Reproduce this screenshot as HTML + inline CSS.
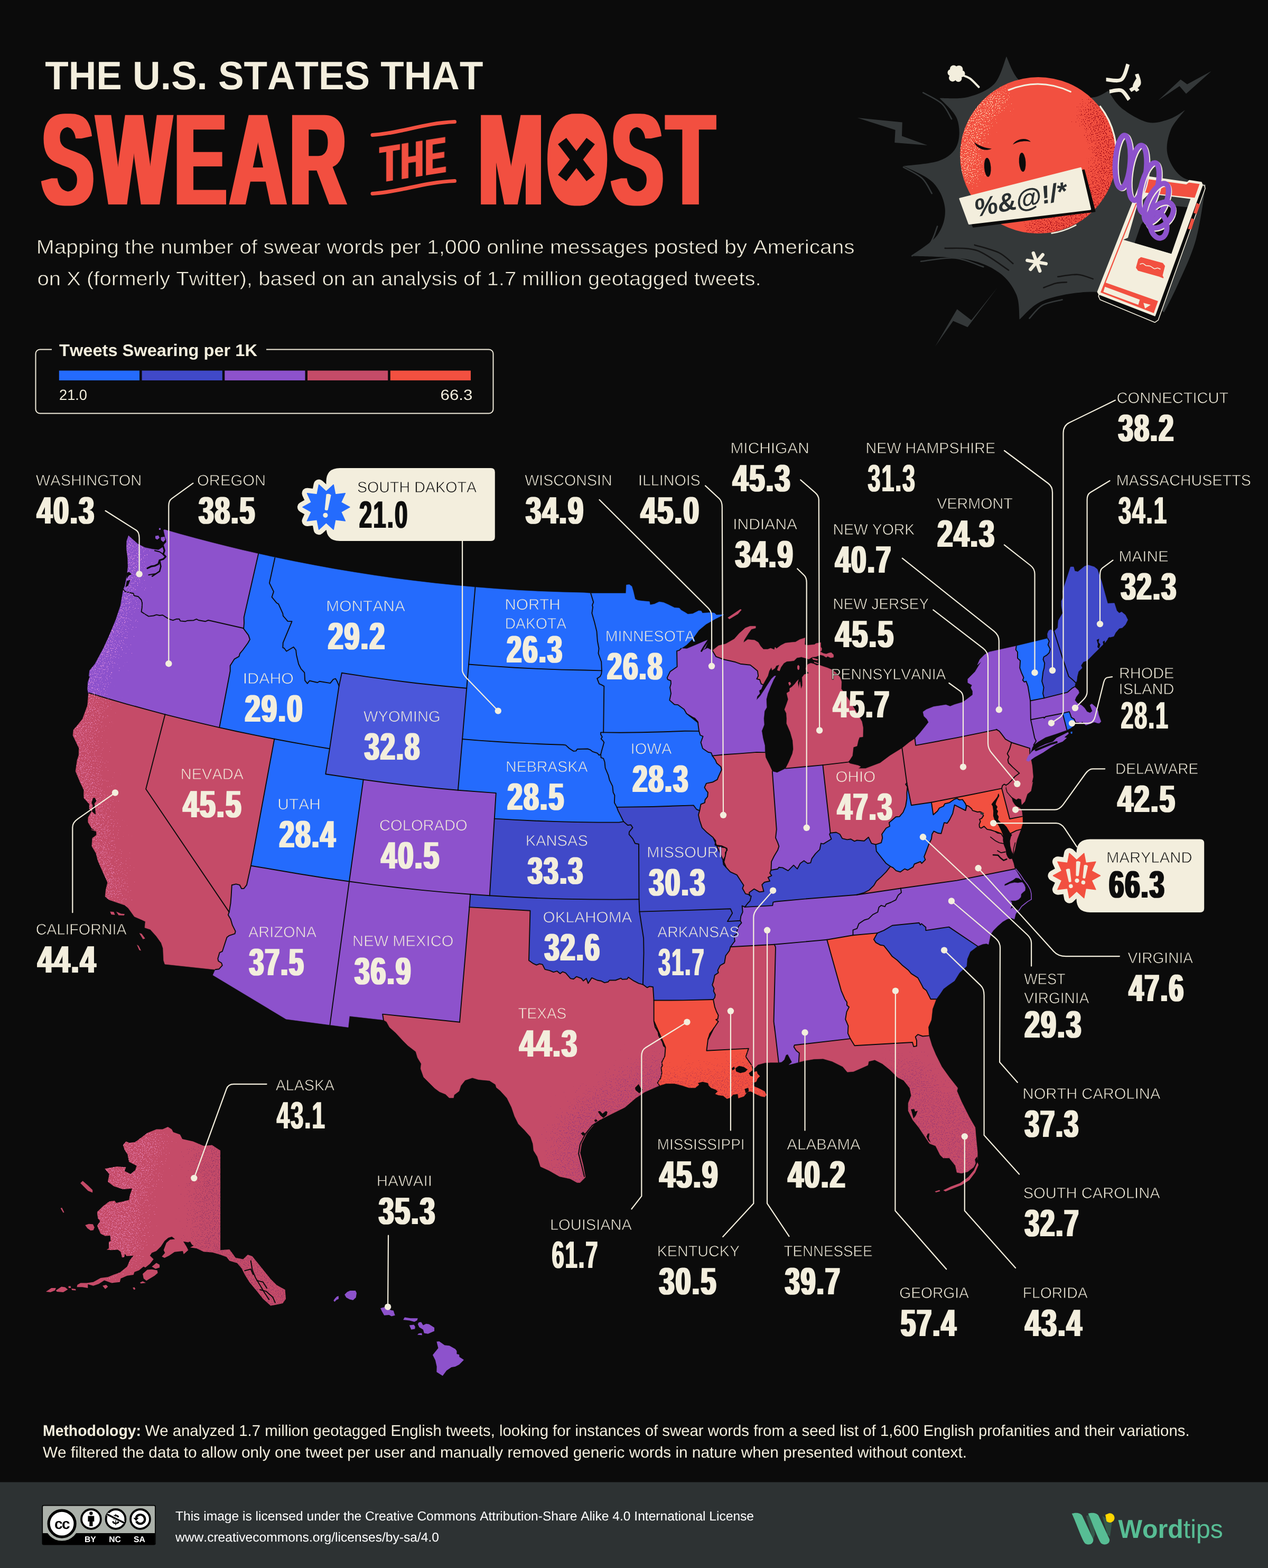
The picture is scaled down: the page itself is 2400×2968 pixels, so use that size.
<!DOCTYPE html>
<html lang="en"><head><meta charset="utf-8"><title>The U.S. States That Swear the Most</title>
<style>
html,body{margin:0;padding:0;background:#0b0b0b;}
body{width:2400px;height:2968px;overflow:hidden;position:relative;font-family:"Liberation Sans",Arial,sans-serif;}
svg{position:absolute;left:0;top:0;display:block;}
text{white-space:pre;font-kerning:none;text-rendering:geometricPrecision;}
</style></head><body>
<svg width="2400" height="2968" viewBox="0 0 2400 2968">
<defs><clipPath id="cBall"><circle cx="1965.1" cy="294.1" r="148"/></clipPath>
<filter id="grainB" filterUnits="userSpaceOnUse" x="1700" y="80" width="640" height="600" color-interpolation-filters="sRGB">
 <feGaussianBlur in="SourceGraphic" stdDeviation="16" result="b"/>
 <feTurbulence type="fractalNoise" baseFrequency="0.5" numOctaves="2" seed="5" result="n"/>
 <feComposite in="n" in2="b" operator="arithmetic" k1="0" k2="1" k3="0.25" k4="0" result="m"/>
 <feColorMatrix in="m" type="matrix" values="0 0 0 0 0  0 0 0 0 0  0 0 0 0 0  0 0 0 14 -11.5" result="t"/>
 <feComposite in="b" in2="t" operator="in" result="c"/>
 <feColorMatrix in="c" type="matrix" values="1 0 0 0 0  0 1 0 0 0  0 0 1 0 0  0 0 0 6 0"/>
</filter><filter id="fatT" x="-5%" y="-5%" width="110%" height="110%"><feMorphology operator="dilate" radius="7.6 0"/></filter><filter id="fatH" x="-5%" y="-5%" width="110%" height="110%"><feMorphology operator="dilate" radius="3.4 0"/></filter><filter id="fatN" x="-5%" y="-5%" width="110%" height="110%"><feMorphology operator="dilate" radius="2.3 0.3"/></filter></defs>
<defs>
<filter id="grainA" filterUnits="userSpaceOnUse" x="0" y="900" width="2400" height="1800" color-interpolation-filters="sRGB">
 <feGaussianBlur in="SourceGraphic" stdDeviation="22" result="b"/>
 <feTurbulence type="fractalNoise" baseFrequency="0.55" numOctaves="2" seed="11" result="n"/>
 <feComposite in="n" in2="b" operator="arithmetic" k1="0" k2="1" k3="0.25" k4="0" result="m"/>
 <feColorMatrix in="m" type="matrix" values="0 0 0 0 0  0 0 0 0 0  0 0 0 0 0  0 0 0 14 -11.9" result="t"/>
 <feComposite in="b" in2="t" operator="in" result="c"/>
 <feColorMatrix in="c" type="matrix" values="1 0 0 0 0  0 1 0 0 0  0 0 1 0 0  0 0 0 6 0"/>
</filter><clipPath id="cWA"><path d="M233.4,1115.9 236.4,1109.0 238.7,1097.5 241.0,1083.7 242.2,1072.2 241.7,1056.0 239.4,1037.6 239.9,1023.8 243.3,1014.1 249.1,1019.2 260.6,1029.5 274.4,1036.5 288.2,1039.4 299.8,1041.1 309.0,1035.3 314.1,1022.6 309.7,1003.5 311.5,1002.6 340.9,1011.0 370.4,1019.0 400.0,1026.8 429.6,1034.2 459.4,1041.4 489.1,1048.2 489.1,1048.2 461.7,1168.6 462.0,1179.5 461.2,1189.2 461.2,1189.2 394.2,1174.0 388.5,1176.3 375.8,1174.0 371.9,1171.9 366.6,1174.2 355.1,1174.7 350.5,1176.3 341.2,1175.4 339.4,1171.7 334.3,1171.7 327.4,1174.2 321.7,1172.4 315.9,1169.4 307.8,1164.3 302.1,1165.0 296.3,1163.6 290.6,1165.5 281.3,1166.6 274.4,1162.5 267.5,1157.9 268.7,1150.5 269.1,1141.3 267.5,1135.5 261.8,1129.3 253.7,1127.5 252.5,1123.3 244.5,1121.7 236.4,1119.4 233.4,1115.9Z"/></clipPath><clipPath id="cOR"><path d="M233.4,1115.9 236.4,1119.4 244.5,1121.7 252.5,1123.3 253.7,1127.5 261.8,1129.3 267.5,1135.5 269.1,1141.3 268.7,1150.5 267.5,1157.9 274.4,1162.5 281.3,1166.6 290.6,1165.5 296.3,1163.6 302.1,1165.0 307.8,1164.3 315.9,1169.4 321.7,1172.4 327.4,1174.2 334.3,1171.7 339.4,1171.7 341.2,1175.4 350.5,1176.3 355.1,1174.7 366.6,1174.2 371.9,1171.9 375.8,1174.0 388.5,1176.3 394.2,1174.0 461.2,1189.2 460.4,1189.2 463.4,1193.1 470.3,1202.4 473.0,1210.4 469.1,1217.3 459.9,1230.0 454.1,1236.9 452.3,1242.7 443.8,1247.3 435.7,1260.0 435.7,1270.3 415.2,1377.1 415.2,1377.1 380.9,1369.2 346.6,1360.9 312.5,1352.3 312.5,1352.3 276.3,1342.7 240.2,1332.8 204.3,1322.4 168.4,1311.7 167.5,1312.9 165.7,1305.3 166.4,1291.5 170.3,1280.0 168.4,1280.0 169.6,1269.2 180.0,1256.5 196.1,1226.5 207.6,1201.2 219.1,1173.5 228.3,1145.9 230.6,1132.1 233.4,1115.9Z"/></clipPath><clipPath id="cCA"><path d="M168.4,1311.7 204.3,1322.4 240.2,1332.8 276.3,1342.7 312.5,1352.3 312.5,1352.3 276.1,1493.5 433.7,1726.4 433.7,1726.4 431.8,1731.7 436.5,1739.7 439.9,1751.2 445.7,1762.8 444.5,1767.4 434.1,1770.8 429.5,1774.3 427.2,1781.2 420.8,1800.8 415.7,1803.1 412.3,1814.6 413.4,1819.2 419.2,1822.7 420.8,1827.3 414.6,1834.2 407.6,1835.3 407.6,1835.3 312.0,1825.0 312.0,1825.0 309.7,1818.1 308.6,1795.0 305.1,1784.7 295.9,1772.0 284.4,1759.3 274.0,1755.9 275.2,1744.3 268.2,1740.9 254.4,1735.1 242.9,1719.0 236.0,1713.2 222.2,1708.6 206.0,1702.9 199.1,1697.1 200.3,1684.4 203.7,1670.6 194.5,1649.9 185.3,1629.1 181.8,1615.3 173.8,1601.5 174.9,1586.5 182.5,1580.7 182.5,1573.8 172.6,1570.4 181.8,1572.6 173.7,1568.0 166.8,1556.5 166.8,1547.3 173.7,1535.8 169.1,1531.2 169.1,1521.9 158.8,1510.4 158.8,1495.4 151.8,1480.5 143.1,1459.7 146.1,1439.0 149.1,1429.8 149.5,1415.9 138.0,1391.8 139.2,1381.4 147.2,1372.2 156.5,1360.6 157.6,1357.2 165.7,1335.3 167.5,1312.9Z"/></clipPath><clipPath id="cTX"><path d="M888.5,1717.1 1003.5,1723.7 1001.0,1818.0 1008.4,1823.3 1015.3,1826.7 1021.1,1824.4 1026.8,1825.6 1031.4,1834.8 1040.6,1837.1 1047.6,1840.1 1054.5,1838.2 1060.2,1842.9 1064.8,1839.4 1070.6,1841.7 1079.8,1852.1 1085.6,1853.2 1091.3,1848.6 1100.6,1852.1 1104.0,1856.7 1109.8,1852.1 1113.2,1861.3 1120.1,1850.9 1130.5,1855.5 1137.4,1856.7 1144.3,1860.1 1151.2,1858.5 1153.5,1855.5 1165.1,1855.5 1175.4,1851.6 1177.7,1853.9 1187.0,1853.2 1189.3,1849.8 1199.6,1856.7 1208.8,1861.3 1216.9,1863.6 1216.9,1863.6 1225.0,1869.4 1229.6,1867.1 1236.0,1868.2 1237.6,1893.5 1237.6,1893.5 1237.6,1932.7 1240.0,1944.2 1245.7,1953.5 1246.9,1960.4 1253.8,1971.9 1256.1,1980.0 1259.5,1982.3 1237.6,1932.3 1239.9,1943.8 1245.7,1951.8 1248.0,1962.2 1254.9,1971.4 1257.2,1980.6 1259.5,1982.9 1258.3,1999.1 1252.6,2010.6 1253.7,2017.5 1251.4,2021.0 1252.6,2031.3 1250.3,2040.6 1244.5,2049.8 1248.0,2054.8 1248.0,2054.8 1220.3,2067.1 1203.1,2078.6 1182.9,2095.9 1157.0,2108.8 1139.7,2117.5 1125.3,2127.5 1110.9,2144.8 1100.8,2165.0 1097.9,2182.3 1103.7,2205.3 1108.0,2228.3 1108.0,2228.3 1105.1,2231.2 1097.9,2238.4 1092.2,2238.4 1079.2,2231.2 1059.1,2226.9 1038.9,2215.4 1023.1,2208.2 1017.3,2189.5 1010.1,2177.9 1008.7,2165.0 1004.3,2152.0 992.8,2139.1 981.3,2127.5 974.1,2113.1 968.3,2095.9 959.7,2078.6 946.7,2064.2 939.5,2058.4 938.1,2052.6 949.4,2064.3 940.2,2058.5 937.9,2052.8 926.4,2045.4 905.6,2043.5 894.1,2040.1 880.3,2044.7 872.2,2055.1 868.8,2065.4 859.5,2072.4 858.4,2078.1 850.3,2078.1 843.4,2071.2 831.9,2066.6 822.7,2059.7 813.5,2050.5 801.9,2038.9 796.2,2022.8 797.3,2013.6 790.4,2002.1 787.0,1990.6 772.0,1979.0 762.8,1969.8 748.9,1954.8 737.4,1944.5 731.7,1934.1 725.9,1930.6 725.9,1930.6 724.1,1919.6 870.0,1934.8 870.0,1934.8 888.5,1717.1Z"/></clipPath><clipPath id="cLA"><path d="M1237.6,1893.5 1292.9,1893.4 1350.0,1892.0 1350.0,1892.0 1352.8,1905.8 1356.2,1915.0 1359.7,1921.9 1358.5,1928.8 1355.1,1930.0 1359.7,1933.5 1350.5,1947.3 1343.5,1956.5 1340.1,1968.0 1351.7,1944.9 1343.6,1957.6 1340.1,1966.8 1337.4,1988.7 1416.9,1984.6 1411.6,2000.2 1421.9,2015.2 1421.9,2015.2 1424.2,2025.6 1417.3,2031.3 1419.6,2035.9 1425.4,2038.2 1427.7,2029.0 1432.3,2027.9 1433.5,2032.5 1438.1,2037.1 1433.5,2041.7 1431.2,2047.5 1424.2,2049.8 1427.7,2056.7 1435.8,2060.1 1447.3,2065.9 1450.7,2072.8 1447.3,2076.3 1440.4,2075.1 1430.0,2070.5 1421.9,2065.9 1415.0,2065.9 1408.1,2075.1 1397.7,2078.6 1396.6,2070.5 1387.4,2071.7 1382.8,2077.4 1375.9,2079.7 1368.9,2074.0 1359.7,2072.8 1354.0,2070.5 1358.6,2065.9 1355.1,2062.4 1345.9,2059.0 1341.3,2054.4 1339.0,2049.8 1329.8,2047.5 1320.6,2049.8 1322.9,2053.2 1315.9,2059.0 1304.4,2059.0 1290.6,2054.4 1276.8,2050.9 1260.6,2050.9 1248.0,2054.8 1248.0,2054.8 1244.5,2049.8 1250.3,2040.6 1252.6,2031.3 1251.4,2021.0 1253.7,2017.5 1252.6,2010.6 1258.3,1999.1 1259.5,1982.9 1257.2,1980.6 1254.9,1971.4 1248.0,1962.2 1245.7,1951.8 1239.9,1943.8 1237.6,1932.3 1259.5,1982.3 1256.1,1980.0 1253.8,1971.9 1246.9,1960.4 1245.7,1953.5 1240.0,1944.2 1237.6,1932.7 1237.6,1893.5Z"/></clipPath><clipPath id="cFL"><path d="M1511.8,2010.6 1512.9,1993.3 1507.2,1988.7 1502.6,1981.8 1503.7,1978.3 1609.4,1966.1 1609.4,1966.1 1617.5,1979.3 1727.0,1973.0 1729.3,1981.1 1735.0,1980.0 1735.0,1969.6 1732.7,1962.7 1737.3,1958.1 1746.5,1961.5 1758.1,1960.4 1758.1,1960.4 1763.7,1978.8 1770.9,1996.1 1782.4,2019.1 1796.8,2039.3 1812.7,2059.4 1811.2,2065.2 1819.9,2085.4 1834.3,2114.2 1845.8,2134.3 1847.2,2151.6 1850.1,2180.4 1850.1,2194.8 1842.9,2209.2 1831.4,2217.9 1819.9,2220.7 1811.2,2219.3 1808.3,2206.3 1796.8,2191.9 1785.3,2191.9 1779.5,2186.2 1770.9,2168.9 1759.4,2164.6 1750.7,2151.6 1739.2,2134.3 1727.7,2119.9 1719.1,2102.6 1719.1,2088.2 1724.8,2073.8 1721.9,2059.4 1710.4,2045.0 1698.9,2039.3 1684.5,2024.9 1670.1,2013.4 1655.7,2006.2 1644.2,2009.0 1642.7,2016.2 1629.8,2022.0 1615.4,2028.3 1603.8,2029.2 1595.2,2019.1 1575.0,2009.0 1557.8,2004.1 1540.5,2004.7 1523.2,2007.6 1511.8,2010.6Z"/></clipPath><clipPath id="cMSAL"><path d="M1382.7,1792.2 1465.7,1787.8 1465.7,1787.8 1468.0,1792.9 1464.5,1933.5 1466.8,1951.9 1465.7,1941.5 1473.8,2011.1 1473.8,2011.1 1458.8,2011.1 1447.3,2011.8 1434.6,2015.2 1427.7,2022.1 1421.9,2015.2 1421.9,2015.2 1411.6,2000.2 1416.9,1984.6 1337.4,1988.7 1340.1,1966.8 1343.6,1957.6 1351.7,1944.9 1340.1,1968.0 1343.5,1956.5 1350.5,1947.3 1359.7,1933.5 1355.1,1930.0 1358.5,1928.8 1359.7,1921.9 1356.2,1915.0 1352.8,1905.8 1350.0,1892.0 1350.0,1892.0 1352.8,1888.5 1353.9,1882.8 1350.5,1875.9 1351.6,1871.2 1348.2,1864.3 1350.5,1857.4 1352.8,1845.9 1359.7,1841.3 1358.5,1836.7 1363.1,1827.5 1371.2,1822.9 1373.5,1809.0 1380.4,1799.8 1382.7,1792.2Z"/><path d="M1465.7,1787.8 1565.2,1778.8 1565.2,1778.8 1592.2,1875.1 1599.1,1891.2 1603.0,1897.0 1603.0,1902.8 1607.1,1906.2 1602.5,1915.4 1600.2,1929.3 1605.5,1941.9 1604.8,1955.8 1609.4,1966.1 1609.4,1966.1 1503.7,1978.3 1502.6,1981.8 1507.2,1988.7 1512.9,1993.3 1511.8,2010.6 1511.8,2010.6 1502.6,2012.9 1493.4,2015.2 1499.1,2010.6 1491.1,1995.6 1487.6,1996.8 1484.1,2006.0 1479.5,2010.1 1473.8,2011.1 1473.8,2011.1 1465.7,1941.5 1466.8,1951.9 1464.5,1933.5 1468.0,1792.9 1465.7,1787.8Z"/></clipPath><clipPath id="cAK"><path d="M417.1,2177.7 401.3,2167.6 385.5,2169.0 365.3,2160.4 345.1,2156.1 340.8,2147.4 327.9,2143.1 325.0,2137.4 317.8,2133.0 307.7,2137.4 296.2,2137.4 278.9,2144.6 267.4,2153.2 255.9,2161.8 244.3,2163.3 238.6,2160.4 232.8,2167.6 235.7,2176.2 241.5,2184.9 244.3,2199.3 258.7,2206.5 255.9,2215.1 247.2,2222.3 235.7,2216.6 238.6,2209.4 221.3,2207.9 198.2,2212.2 206.9,2222.3 204.0,2236.7 215.5,2245.4 232.8,2251.1 250.1,2249.7 245.8,2262.6 244.3,2271.3 232.8,2274.2 219.9,2277.1 217.0,2272.7 206.9,2274.2 195.4,2282.8 183.8,2294.3 185.3,2305.9 189.6,2311.6 183.8,2320.3 190.5,2335.2 199.1,2339.6 208.6,2338.7 209.5,2349.1 206.0,2350.8 206.0,2362.9 201.7,2365.5 211.2,2366.3 223.3,2365.5 228.5,2369.8 231.1,2380.2 235.4,2379.3 236.3,2373.2 239.7,2377.6 252.7,2376.7 245.8,2385.3 240.6,2397.4 226.8,2408.7 214.7,2413.0 204.3,2417.3 190.5,2419.0 176.6,2426.8 164.6,2428.5 152.5,2428.5 146.4,2432.0 145.5,2436.3 155.9,2436.3 166.3,2438.1 166.3,2431.1 176.6,2433.7 187.0,2430.3 197.4,2423.4 211.2,2428.5 226.8,2426.8 228.5,2419.9 240.6,2414.7 252.7,2413.0 254.4,2407.8 263.1,2404.4 271.7,2397.4 275.1,2399.2 283.8,2392.3 290.7,2383.6 283.8,2376.7 287.2,2371.5 295.9,2368.1 304.5,2359.4 311.4,2349.1 318.4,2343.0 325.3,2340.7 331.3,2345.6 321.8,2346.5 314.9,2352.5 309.7,2366.3 312.3,2371.5 306.3,2378.4 311.4,2381.0 320.1,2376.7 330.4,2369.8 346.0,2368.1 347.7,2374.1 356.4,2366.3 352.9,2359.4 348.6,2352.5 346.9,2349.9 356.4,2351.6 359.8,2349.9 363.3,2356.0 366.7,2357.7 359.8,2361.2 371.9,2362.9 385.5,2369.2 402.7,2370.7 417.1,2375.0 428.7,2379.3 434.4,2386.5 448.8,2390.8 457.5,2400.9 463.2,2412.4 471.9,2426.8 486.3,2444.1 497.8,2458.5 512.2,2471.5 520.8,2470.0 535.2,2467.1 541.0,2458.5 539.6,2441.2 523.7,2432.6 512.2,2421.1 500.7,2406.7 489.1,2392.3 477.6,2377.9 469.0,2375.0 460.3,2383.6 445.9,2380.7 434.4,2364.9 417.1,2366.3Z"/></clipPath></defs>
<rect width="2400" height="2968" fill="#0b0b0b"/>
<g id="map">
<g id="states">
<path d="M233.4,1115.9 236.4,1109.0 238.7,1097.5 241.0,1083.7 242.2,1072.2 241.7,1056.0 239.4,1037.6 239.9,1023.8 243.3,1014.1 249.1,1019.2 260.6,1029.5 274.4,1036.5 288.2,1039.4 299.8,1041.1 309.0,1035.3 314.1,1022.6 309.7,1003.5 311.5,1002.6 340.9,1011.0 370.4,1019.0 400.0,1026.8 429.6,1034.2 459.4,1041.4 489.1,1048.2 489.1,1048.2 461.7,1168.6 462.0,1179.5 461.2,1189.2 461.2,1189.2 394.2,1174.0 388.5,1176.3 375.8,1174.0 371.9,1171.9 366.6,1174.2 355.1,1174.7 350.5,1176.3 341.2,1175.4 339.4,1171.7 334.3,1171.7 327.4,1174.2 321.7,1172.4 315.9,1169.4 307.8,1164.3 302.1,1165.0 296.3,1163.6 290.6,1165.5 281.3,1166.6 274.4,1162.5 267.5,1157.9 268.7,1150.5 269.1,1141.3 267.5,1135.5 261.8,1129.3 253.7,1127.5 252.5,1123.3 244.5,1121.7 236.4,1119.4 233.4,1115.9Z" fill="#8d52cc" stroke="#8d52cc" stroke-width="0.6" stroke-linejoin="round"/>
<path d="M233.4,1115.9 236.4,1119.4 244.5,1121.7 252.5,1123.3 253.7,1127.5 261.8,1129.3 267.5,1135.5 269.1,1141.3 268.7,1150.5 267.5,1157.9 274.4,1162.5 281.3,1166.6 290.6,1165.5 296.3,1163.6 302.1,1165.0 307.8,1164.3 315.9,1169.4 321.7,1172.4 327.4,1174.2 334.3,1171.7 339.4,1171.7 341.2,1175.4 350.5,1176.3 355.1,1174.7 366.6,1174.2 371.9,1171.9 375.8,1174.0 388.5,1176.3 394.2,1174.0 461.2,1189.2 460.4,1189.2 463.4,1193.1 470.3,1202.4 473.0,1210.4 469.1,1217.3 459.9,1230.0 454.1,1236.9 452.3,1242.7 443.8,1247.3 435.7,1260.0 435.7,1270.3 415.2,1377.1 415.2,1377.1 380.9,1369.2 346.6,1360.9 312.5,1352.3 312.5,1352.3 276.3,1342.7 240.2,1332.8 204.3,1322.4 168.4,1311.7 167.5,1312.9 165.7,1305.3 166.4,1291.5 170.3,1280.0 168.4,1280.0 169.6,1269.2 180.0,1256.5 196.1,1226.5 207.6,1201.2 219.1,1173.5 228.3,1145.9 230.6,1132.1 233.4,1115.9Z" fill="#8d52cc" stroke="#8d52cc" stroke-width="0.6" stroke-linejoin="round"/>
<path d="M168.4,1311.7 204.3,1322.4 240.2,1332.8 276.3,1342.7 312.5,1352.3 312.5,1352.3 276.1,1493.5 433.7,1726.4 433.7,1726.4 431.8,1731.7 436.5,1739.7 439.9,1751.2 445.7,1762.8 444.5,1767.4 434.1,1770.8 429.5,1774.3 427.2,1781.2 420.8,1800.8 415.7,1803.1 412.3,1814.6 413.4,1819.2 419.2,1822.7 420.8,1827.3 414.6,1834.2 407.6,1835.3 407.6,1835.3 312.0,1825.0 312.0,1825.0 309.7,1818.1 308.6,1795.0 305.1,1784.7 295.9,1772.0 284.4,1759.3 274.0,1755.9 275.2,1744.3 268.2,1740.9 254.4,1735.1 242.9,1719.0 236.0,1713.2 222.2,1708.6 206.0,1702.9 199.1,1697.1 200.3,1684.4 203.7,1670.6 194.5,1649.9 185.3,1629.1 181.8,1615.3 173.8,1601.5 174.9,1586.5 182.5,1580.7 182.5,1573.8 172.6,1570.4 181.8,1572.6 173.7,1568.0 166.8,1556.5 166.8,1547.3 173.7,1535.8 169.1,1531.2 169.1,1521.9 158.8,1510.4 158.8,1495.4 151.8,1480.5 143.1,1459.7 146.1,1439.0 149.1,1429.8 149.5,1415.9 138.0,1391.8 139.2,1381.4 147.2,1372.2 156.5,1360.6 157.6,1357.2 165.7,1335.3 167.5,1312.9Z" fill="#c54b68" stroke="#c54b68" stroke-width="0.6" stroke-linejoin="round"/>
<path d="M312.5,1352.3 346.6,1360.9 380.9,1369.2 415.2,1377.1 415.2,1377.1 449.8,1384.7 484.5,1391.9 519.3,1398.8 519.3,1398.8 474.9,1638.8 474.9,1638.8 466.9,1675.2 461.8,1681.7 457.2,1682.1 453.7,1675.2 446.8,1673.4 438.8,1675.2 437.6,1695.9 436.5,1709.8 433.7,1726.4 433.7,1726.4 276.1,1493.5 312.5,1352.3Z" fill="#c54b68" stroke="#c54b68" stroke-width="0.6" stroke-linejoin="round"/>
<path d="M489.1,1048.2 519.8,1055.0 520.3,1056.0 509.9,1103.7 518.0,1119.9 514.5,1130.2 523.7,1141.3 527.2,1143.4 535.3,1161.3 535.9,1165.9 541.0,1171.7 544.5,1175.9 552.5,1176.3 535.7,1216.6 535.3,1225.9 538.0,1227.0 542.2,1232.8 555.5,1224.7 560.1,1230.5 561.1,1239.7 565.2,1257.0 569.8,1266.2 576.3,1273.1 577.2,1288.1 581.8,1293.8 585.9,1288.5 600.9,1292.0 604.8,1289.7 625.1,1293.1 630.9,1285.8 635.0,1284.6 637.8,1289.2 641.7,1298.4 641.7,1298.4 624.0,1417.2 624.0,1417.2 589.0,1411.4 554.1,1405.3 519.3,1398.8 519.3,1398.8 484.5,1391.9 449.8,1384.7 415.2,1377.1 415.2,1377.1 435.7,1270.3 435.7,1260.0 443.8,1247.3 452.3,1242.7 454.1,1236.9 459.9,1230.0 469.1,1217.3 473.0,1210.4 470.3,1202.4 463.4,1193.1 460.4,1189.2 461.2,1189.2 462.0,1179.5 461.7,1168.6 489.1,1048.2Z" fill="#246bfd" stroke="#246bfd" stroke-width="0.6" stroke-linejoin="round"/>
<path d="M519.8,1055.0 557.4,1062.8 595.1,1070.1 632.9,1077.0 670.8,1083.3 708.8,1089.2 746.8,1094.7 784.9,1099.6 823.1,1104.1 861.3,1108.0 899.5,1111.5 899.5,1111.5 887.1,1257.5 887.1,1257.5 883.3,1302.7 883.3,1302.7 835.8,1298.3 788.5,1293.2 741.2,1287.4 694.0,1280.9 646.9,1273.8 646.9,1273.8 641.7,1298.4 641.7,1298.4 637.8,1289.2 635.0,1284.6 630.9,1285.8 625.1,1293.1 604.8,1289.7 600.9,1292.0 585.9,1288.5 581.8,1293.8 577.2,1288.1 576.3,1273.1 569.8,1266.2 565.2,1257.0 561.1,1239.7 560.1,1230.5 555.5,1224.7 542.2,1232.8 538.0,1227.0 535.3,1225.9 535.7,1216.6 552.5,1176.3 544.5,1175.9 541.0,1171.7 535.9,1165.9 535.3,1161.3 527.2,1143.4 523.7,1141.3 514.5,1130.2 518.0,1119.9 509.9,1103.7 520.3,1056.0Z" fill="#246bfd" stroke="#246bfd" stroke-width="0.6" stroke-linejoin="round"/>
<path d="M646.9,1273.8 694.0,1280.9 741.2,1287.4 788.5,1293.2 835.8,1298.3 883.3,1302.7 883.3,1302.7 875.1,1399.0 875.1,1399.0 866.9,1495.8 866.9,1495.8 822.0,1491.7 777.2,1487.0 732.4,1481.7 687.7,1475.8 687.7,1475.8 616.3,1465.2 624.0,1417.2 624.0,1417.2 641.7,1298.4 641.7,1298.4 646.9,1273.8Z" fill="#4b57da" stroke="#4b57da" stroke-width="0.6" stroke-linejoin="round"/>
<path d="M519.3,1398.8 554.1,1405.3 589.0,1411.4 624.0,1417.2 624.0,1417.2 616.3,1465.2 687.7,1475.8 687.7,1475.8 661.0,1668.5 661.0,1668.5 613.9,1661.7 566.8,1654.3 519.9,1646.2 474.9,1638.8 474.9,1638.8 519.3,1398.8Z" fill="#246bfd" stroke="#246bfd" stroke-width="0.6" stroke-linejoin="round"/>
<path d="M687.7,1475.8 732.4,1481.7 777.2,1487.0 822.0,1491.7 866.9,1495.8 866.9,1495.8 938.8,1501.1 935.8,1549.6 935.8,1549.6 926.8,1695.3 926.8,1695.3 890.3,1692.8 890.3,1692.8 844.4,1689.1 798.4,1684.9 752.6,1680.0 706.8,1674.6 661.0,1668.5 661.0,1668.5 687.7,1475.8Z" fill="#8d52cc" stroke="#8d52cc" stroke-width="0.6" stroke-linejoin="round"/>
<path d="M474.9,1638.8 519.9,1646.2 566.8,1654.3 613.9,1661.7 661.0,1668.5 661.0,1668.5 624.5,1939.9 624.5,1939.9 541.4,1929.0 403.0,1845.7 407.6,1835.3 407.6,1835.3 414.6,1834.2 420.8,1827.3 419.2,1822.7 413.4,1819.2 412.3,1814.6 415.7,1803.1 420.8,1800.8 427.2,1781.2 429.5,1774.3 434.1,1770.8 444.5,1767.4 445.7,1762.8 439.9,1751.2 436.5,1739.7 431.8,1731.7 433.7,1726.4 433.7,1726.4 436.5,1709.8 437.6,1695.9 438.8,1675.2 446.8,1673.4 453.7,1675.2 457.2,1682.1 461.8,1681.7 466.9,1675.2 474.9,1638.8Z" fill="#8d52cc" stroke="#8d52cc" stroke-width="0.6" stroke-linejoin="round"/>
<path d="M661.0,1668.5 706.8,1674.6 752.6,1680.0 798.4,1684.9 844.4,1689.1 890.3,1692.8 890.3,1692.8 888.5,1717.1 888.5,1717.1 870.0,1934.8 870.0,1934.8 724.1,1919.6 725.9,1930.6 725.9,1930.6 661.4,1923.3 659.1,1944.5 624.5,1939.9 624.5,1939.9 661.0,1668.5Z" fill="#8d52cc" stroke="#8d52cc" stroke-width="0.6" stroke-linejoin="round"/>
<path d="M899.5,1111.5 940.7,1114.7 981.9,1117.4 1023.2,1119.5 1064.4,1121.0 1105.7,1122.0 1118.2,1123.1 1118.2,1123.1 1123.3,1139.9 1121.0,1145.7 1122.1,1149.1 1120.3,1160.6 1125.6,1179.1 1129.5,1195.2 1130.9,1213.6 1133.6,1227.5 1132.5,1236.7 1138.2,1252.8 1138.9,1269.4 1138.9,1269.4 1106.6,1268.5 1062.7,1267.6 1018.7,1265.9 974.8,1263.7 931.0,1260.9 887.1,1257.5 887.1,1257.5 899.5,1111.5Z" fill="#246bfd" stroke="#246bfd" stroke-width="0.6" stroke-linejoin="round"/>
<path d="M887.1,1257.5 931.0,1260.9 974.8,1263.7 1018.7,1265.9 1062.7,1267.6 1106.6,1268.5 1138.9,1269.4 1138.9,1269.4 1138.2,1275.9 1135.9,1280.5 1130.2,1284.4 1134.1,1294.3 1138.2,1296.1 1143.3,1298.9 1142.2,1386.4 1142.2,1386.4 1137.1,1386.4 1137.1,1390.3 1139.9,1394.9 1137.6,1398.4 1141.0,1401.8 1143.3,1405.3 1141.0,1413.4 1138.7,1421.4 1137.1,1427.9 1137.1,1427.9 1134.1,1429.5 1130.6,1425.6 1121.4,1422.6 1116.8,1419.1 1112.2,1417.5 1092.6,1418.0 1090.3,1421.4 1085.7,1421.9 1077.6,1416.8 1070.7,1410.4 1065.8,1409.7 1034.0,1408.7 1002.2,1407.4 970.4,1405.8 938.6,1403.8 906.8,1401.6 875.1,1399.0 875.1,1399.0 883.3,1302.7 883.3,1302.7 887.1,1257.5Z" fill="#246bfd" stroke="#246bfd" stroke-width="0.6" stroke-linejoin="round"/>
<path d="M875.1,1399.0 906.8,1401.6 938.6,1403.8 970.4,1405.8 1002.2,1407.4 1034.0,1408.7 1065.8,1409.7 1070.7,1410.4 1077.6,1416.8 1085.7,1421.9 1090.3,1421.4 1092.6,1418.0 1112.2,1417.5 1116.8,1419.1 1121.4,1422.6 1130.6,1425.6 1134.1,1429.5 1137.1,1427.9 1137.1,1427.9 1137.6,1434.1 1142.2,1435.7 1144.5,1442.2 1145.6,1453.7 1151.4,1467.5 1153.7,1476.7 1159.4,1488.2 1160.6,1499.8 1163.4,1505.5 1162.9,1519.4 1167.5,1527.9 1167.5,1527.9 1169.8,1534.3 1175.6,1545.9 1180.2,1555.1 1180.2,1555.1 1171.6,1556.6 1132.2,1556.6 1092.9,1556.1 1053.6,1555.1 1014.3,1553.7 975.0,1551.9 935.8,1549.6 935.8,1549.6 938.8,1501.1 866.9,1495.8 866.9,1495.8 875.1,1399.0Z" fill="#246bfd" stroke="#246bfd" stroke-width="0.6" stroke-linejoin="round"/>
<path d="M935.8,1549.6 975.0,1551.9 1014.3,1553.7 1053.6,1555.1 1092.9,1556.1 1132.2,1556.6 1171.6,1556.6 1180.2,1555.1 1180.2,1555.1 1188.2,1562.0 1194.0,1561.3 1197.5,1566.6 1191.0,1574.7 1190.6,1579.3 1197.5,1587.3 1202.1,1596.5 1209.0,1597.7 1209.5,1702.3 1209.5,1702.3 1162.4,1702.6 1115.3,1702.4 1068.1,1701.6 1021.0,1700.1 973.9,1698.0 926.8,1695.3 926.8,1695.3 935.8,1549.6Z" fill="#4049c8" stroke="#4049c8" stroke-width="0.6" stroke-linejoin="round"/>
<path d="M890.3,1692.8 926.8,1695.3 926.8,1695.3 973.9,1698.0 1021.0,1700.1 1068.1,1701.6 1115.3,1702.4 1162.4,1702.6 1209.5,1702.3 1209.5,1702.3 1210.4,1725.6 1210.4,1725.6 1218.1,1776.0 1218.5,1803.7 1216.9,1863.6 1216.9,1863.6 1208.8,1861.3 1199.6,1856.7 1189.3,1849.8 1187.0,1853.2 1177.7,1853.9 1175.4,1851.6 1165.1,1855.5 1153.5,1855.5 1151.2,1858.5 1144.3,1860.1 1137.4,1856.7 1130.5,1855.5 1120.1,1850.9 1113.2,1861.3 1109.8,1852.1 1104.0,1856.7 1100.6,1852.1 1091.3,1848.6 1085.6,1853.2 1079.8,1852.1 1070.6,1841.7 1064.8,1839.4 1060.2,1842.9 1054.5,1838.2 1047.6,1840.1 1040.6,1837.1 1031.4,1834.8 1026.8,1825.6 1021.1,1824.4 1015.3,1826.7 1008.4,1823.3 1001.0,1818.0 1003.5,1723.7 888.5,1717.1 888.5,1717.1 890.3,1692.8Z" fill="#4049c8" stroke="#4049c8" stroke-width="0.6" stroke-linejoin="round"/>
<path d="M888.5,1717.1 1003.5,1723.7 1001.0,1818.0 1008.4,1823.3 1015.3,1826.7 1021.1,1824.4 1026.8,1825.6 1031.4,1834.8 1040.6,1837.1 1047.6,1840.1 1054.5,1838.2 1060.2,1842.9 1064.8,1839.4 1070.6,1841.7 1079.8,1852.1 1085.6,1853.2 1091.3,1848.6 1100.6,1852.1 1104.0,1856.7 1109.8,1852.1 1113.2,1861.3 1120.1,1850.9 1130.5,1855.5 1137.4,1856.7 1144.3,1860.1 1151.2,1858.5 1153.5,1855.5 1165.1,1855.5 1175.4,1851.6 1177.7,1853.9 1187.0,1853.2 1189.3,1849.8 1199.6,1856.7 1208.8,1861.3 1216.9,1863.6 1216.9,1863.6 1225.0,1869.4 1229.6,1867.1 1236.0,1868.2 1237.6,1893.5 1237.6,1893.5 1237.6,1932.7 1240.0,1944.2 1245.7,1953.5 1246.9,1960.4 1253.8,1971.9 1256.1,1980.0 1259.5,1982.3 1237.6,1932.3 1239.9,1943.8 1245.7,1951.8 1248.0,1962.2 1254.9,1971.4 1257.2,1980.6 1259.5,1982.9 1258.3,1999.1 1252.6,2010.6 1253.7,2017.5 1251.4,2021.0 1252.6,2031.3 1250.3,2040.6 1244.5,2049.8 1248.0,2054.8 1248.0,2054.8 1220.3,2067.1 1203.1,2078.6 1182.9,2095.9 1157.0,2108.8 1139.7,2117.5 1125.3,2127.5 1110.9,2144.8 1100.8,2165.0 1097.9,2182.3 1103.7,2205.3 1108.0,2228.3 1108.0,2228.3 1105.1,2231.2 1097.9,2238.4 1092.2,2238.4 1079.2,2231.2 1059.1,2226.9 1038.9,2215.4 1023.1,2208.2 1017.3,2189.5 1010.1,2177.9 1008.7,2165.0 1004.3,2152.0 992.8,2139.1 981.3,2127.5 974.1,2113.1 968.3,2095.9 959.7,2078.6 946.7,2064.2 939.5,2058.4 938.1,2052.6 949.4,2064.3 940.2,2058.5 937.9,2052.8 926.4,2045.4 905.6,2043.5 894.1,2040.1 880.3,2044.7 872.2,2055.1 868.8,2065.4 859.5,2072.4 858.4,2078.1 850.3,2078.1 843.4,2071.2 831.9,2066.6 822.7,2059.7 813.5,2050.5 801.9,2038.9 796.2,2022.8 797.3,2013.6 790.4,2002.1 787.0,1990.6 772.0,1979.0 762.8,1969.8 748.9,1954.8 737.4,1944.5 731.7,1934.1 725.9,1930.6 725.9,1930.6 724.1,1919.6 870.0,1934.8 870.0,1934.8 888.5,1717.1Z" fill="#c54b68" stroke="#c54b68" stroke-width="0.6" stroke-linejoin="round"/>
<path d="M1118.2,1123.1 1184.8,1123.1 1185.5,1107.2 1191.2,1106.5 1195.9,1110.0 1198.6,1119.2 1202.1,1134.1 1207.4,1136.5 1215.4,1137.6 1229.3,1138.8 1230.4,1145.0 1238.5,1143.4 1247.7,1139.2 1255.8,1140.4 1265.0,1144.5 1276.5,1150.3 1285.7,1151.0 1289.2,1154.9 1297.2,1159.5 1301.8,1162.5 1311.1,1161.8 1322.6,1156.0 1327.2,1156.5 1329.5,1160.6 1345.6,1159.5 1352.5,1160.6 1356.0,1164.1 1369.8,1163.4 1369.8,1163.4 1354.8,1171.0 1336.4,1181.4 1322.6,1192.9 1311.1,1209.0 1299.5,1220.6 1289.2,1227.5 1289.2,1227.5 1285.7,1230.9 1281.1,1232.1 1281.6,1262.0 1268.4,1271.2 1262.7,1282.8 1263.8,1286.2 1269.6,1288.5 1270.0,1294.3 1268.0,1301.2 1270.0,1312.7 1267.3,1325.4 1276.5,1333.5 1282.9,1334.1 1294.9,1342.7 1299.5,1350.7 1314.5,1360.0 1321.4,1368.0 1298.8,1350.0 1305.8,1355.8 1315.0,1359.7 1320.7,1366.1 1323.0,1383.9 1323.0,1383.9 1296.1,1383.8 1255.5,1385.3 1214.9,1386.3 1174.3,1386.7 1142.2,1386.4 1142.2,1386.4 1143.3,1298.9 1138.2,1296.1 1134.1,1294.3 1130.2,1284.4 1135.9,1280.5 1138.2,1275.9 1138.9,1269.4 1138.9,1269.4 1138.2,1252.8 1132.5,1236.7 1133.6,1227.5 1130.9,1213.6 1129.5,1195.2 1125.6,1179.1 1120.3,1160.6 1122.1,1149.1 1121.0,1145.7 1123.3,1139.9 1118.2,1123.1Z" fill="#246bfd" stroke="#246bfd" stroke-width="0.6" stroke-linejoin="round"/>
<path d="M1142.2,1386.4 1174.3,1386.7 1214.9,1386.3 1255.5,1385.3 1296.1,1383.8 1323.0,1383.9 1323.0,1383.9 1325.3,1391.5 1330.6,1393.8 1326.5,1405.3 1330.0,1416.8 1340.3,1423.7 1346.1,1424.9 1348.4,1430.6 1348.4,1430.6 1354.1,1438.7 1356.5,1444.5 1364.5,1451.4 1365.7,1457.1 1359.9,1469.8 1357.6,1475.6 1349.5,1480.2 1336.9,1482.9 1333.4,1490.6 1336.9,1496.3 1339.9,1499.8 1339.2,1507.8 1334.6,1513.6 1333.9,1519.4 1326.5,1522.4 1325.3,1528.6 1324.2,1534.3 1324.2,1534.3 1318.4,1532.0 1312.7,1524.4 1234.3,1527.0 1167.5,1527.9 1167.5,1527.9 1162.9,1519.4 1163.4,1505.5 1160.6,1499.8 1159.4,1488.2 1153.7,1476.7 1151.4,1467.5 1145.6,1453.7 1144.5,1442.2 1142.2,1435.7 1137.6,1434.1 1137.1,1427.9 1137.1,1427.9 1138.7,1421.4 1141.0,1413.4 1143.3,1405.3 1141.0,1401.8 1137.6,1398.4 1139.9,1394.9 1137.1,1390.3 1137.1,1386.4 1142.2,1386.4Z" fill="#246bfd" stroke="#246bfd" stroke-width="0.6" stroke-linejoin="round"/>
<path d="M1167.5,1527.9 1234.3,1527.0 1312.7,1524.4 1318.4,1532.0 1324.2,1534.3 1324.2,1534.3 1321.9,1542.4 1324.2,1552.8 1328.8,1566.6 1338.0,1575.8 1349.5,1585.0 1354.1,1593.1 1355.3,1600.0 1365.7,1601.2 1376.0,1605.8 1371.4,1626.5 1369.1,1635.7 1374.9,1642.6 1350.0,1585.9 1354.6,1591.7 1353.5,1599.7 1363.8,1603.2 1373.0,1604.3 1376.5,1608.9 1373.0,1613.5 1373.0,1620.5 1368.4,1629.7 1369.6,1636.6 1382.3,1650.4 1394.9,1656.2 1403.0,1668.8 1407.6,1675.8 1405.3,1681.5 1411.1,1691.9 1416.8,1693.0 1419.1,1695.3 1419.1,1695.3 1421.9,1696.1 1419.6,1705.3 1415.0,1710.0 1409.9,1716.9 1409.9,1716.9 1404.6,1714.6 1405.8,1726.1 1402.3,1734.1 1401.2,1742.7 1401.2,1742.7 1377.0,1744.1 1386.2,1728.4 1382.7,1720.3 1297.5,1723.1 1210.4,1725.6 1210.4,1725.6 1209.5,1702.3 1209.5,1702.3 1209.0,1597.7 1202.1,1596.5 1197.5,1587.3 1190.6,1579.3 1191.0,1574.7 1197.5,1566.6 1194.0,1561.3 1188.2,1562.0 1180.2,1555.1 1180.2,1555.1 1175.6,1545.9 1169.8,1534.3 1167.5,1527.9Z" fill="#4049c8" stroke="#4049c8" stroke-width="0.6" stroke-linejoin="round"/>
<path d="M1210.4,1725.6 1297.5,1723.1 1382.7,1720.3 1386.2,1728.4 1377.0,1744.1 1401.2,1742.7 1401.2,1742.7 1403.5,1746.8 1397.7,1753.7 1394.2,1764.1 1395.4,1767.6 1389.6,1771.0 1390.8,1781.4 1387.3,1786.0 1382.7,1792.2 1382.7,1792.2 1380.4,1799.8 1373.5,1809.0 1371.2,1822.9 1363.1,1827.5 1358.5,1836.7 1359.7,1841.3 1352.8,1845.9 1350.5,1857.4 1348.2,1864.3 1351.6,1871.2 1350.5,1875.9 1353.9,1882.8 1352.8,1888.5 1350.0,1892.0 1350.0,1892.0 1292.9,1893.4 1237.6,1893.5 1237.6,1893.5 1236.0,1868.2 1229.6,1867.1 1225.0,1869.4 1216.9,1863.6 1216.9,1863.6 1218.5,1803.7 1218.1,1776.0 1210.4,1725.6Z" fill="#4049c8" stroke="#4049c8" stroke-width="0.6" stroke-linejoin="round"/>
<path d="M1237.6,1893.5 1292.9,1893.4 1350.0,1892.0 1350.0,1892.0 1352.8,1905.8 1356.2,1915.0 1359.7,1921.9 1358.5,1928.8 1355.1,1930.0 1359.7,1933.5 1350.5,1947.3 1343.5,1956.5 1340.1,1968.0 1351.7,1944.9 1343.6,1957.6 1340.1,1966.8 1337.4,1988.7 1416.9,1984.6 1411.6,2000.2 1421.9,2015.2 1421.9,2015.2 1424.2,2025.6 1417.3,2031.3 1419.6,2035.9 1425.4,2038.2 1427.7,2029.0 1432.3,2027.9 1433.5,2032.5 1438.1,2037.1 1433.5,2041.7 1431.2,2047.5 1424.2,2049.8 1427.7,2056.7 1435.8,2060.1 1447.3,2065.9 1450.7,2072.8 1447.3,2076.3 1440.4,2075.1 1430.0,2070.5 1421.9,2065.9 1415.0,2065.9 1408.1,2075.1 1397.7,2078.6 1396.6,2070.5 1387.4,2071.7 1382.8,2077.4 1375.9,2079.7 1368.9,2074.0 1359.7,2072.8 1354.0,2070.5 1358.6,2065.9 1355.1,2062.4 1345.9,2059.0 1341.3,2054.4 1339.0,2049.8 1329.8,2047.5 1320.6,2049.8 1322.9,2053.2 1315.9,2059.0 1304.4,2059.0 1290.6,2054.4 1276.8,2050.9 1260.6,2050.9 1248.0,2054.8 1248.0,2054.8 1244.5,2049.8 1250.3,2040.6 1252.6,2031.3 1251.4,2021.0 1253.7,2017.5 1252.6,2010.6 1258.3,1999.1 1259.5,1982.9 1257.2,1980.6 1254.9,1971.4 1248.0,1962.2 1245.7,1951.8 1239.9,1943.8 1237.6,1932.3 1259.5,1982.3 1256.1,1980.0 1253.8,1971.9 1246.9,1960.4 1245.7,1953.5 1240.0,1944.2 1237.6,1932.7 1237.6,1893.5Z" fill="#f25040" stroke="#f25040" stroke-width="0.6" stroke-linejoin="round"/>
<path d="M1382.7,1792.2 1465.7,1787.8 1465.7,1787.8 1468.0,1792.9 1464.5,1933.5 1466.8,1951.9 1465.7,1941.5 1473.8,2011.1 1473.8,2011.1 1458.8,2011.1 1447.3,2011.8 1434.6,2015.2 1427.7,2022.1 1421.9,2015.2 1421.9,2015.2 1411.6,2000.2 1416.9,1984.6 1337.4,1988.7 1340.1,1966.8 1343.6,1957.6 1351.7,1944.9 1340.1,1968.0 1343.5,1956.5 1350.5,1947.3 1359.7,1933.5 1355.1,1930.0 1358.5,1928.8 1359.7,1921.9 1356.2,1915.0 1352.8,1905.8 1350.0,1892.0 1350.0,1892.0 1352.8,1888.5 1353.9,1882.8 1350.5,1875.9 1351.6,1871.2 1348.2,1864.3 1350.5,1857.4 1352.8,1845.9 1359.7,1841.3 1358.5,1836.7 1363.1,1827.5 1371.2,1822.9 1373.5,1809.0 1380.4,1799.8 1382.7,1792.2Z" fill="#c54b68" stroke="#c54b68" stroke-width="0.6" stroke-linejoin="round"/>
<path d="M1465.7,1787.8 1565.2,1778.8 1565.2,1778.8 1592.2,1875.1 1599.1,1891.2 1603.0,1897.0 1603.0,1902.8 1607.1,1906.2 1602.5,1915.4 1600.2,1929.3 1605.5,1941.9 1604.8,1955.8 1609.4,1966.1 1609.4,1966.1 1503.7,1978.3 1502.6,1981.8 1507.2,1988.7 1512.9,1993.3 1511.8,2010.6 1511.8,2010.6 1502.6,2012.9 1493.4,2015.2 1499.1,2010.6 1491.1,1995.6 1487.6,1996.8 1484.1,2006.0 1479.5,2010.1 1473.8,2011.1 1473.8,2011.1 1465.7,1941.5 1466.8,1951.9 1464.5,1933.5 1468.0,1792.9 1465.7,1787.8Z" fill="#8d52cc" stroke="#8d52cc" stroke-width="0.6" stroke-linejoin="round"/>
<path d="M1409.9,1716.9 1462.2,1714.1 1463.4,1707.6 1469.1,1706.5 1522.8,1701.6 1621.9,1693.7 1621.9,1693.7 1704.8,1681.5 1704.8,1681.5 1706.0,1689.6 1700.2,1694.2 1695.6,1703.4 1686.4,1708.0 1677.2,1711.5 1674.9,1716.1 1668.0,1713.8 1663.6,1717.3 1661.3,1726.5 1652.1,1731.1 1644.0,1739.2 1635.9,1741.5 1625.6,1748.4 1622.1,1757.6 1614.5,1760.4 1614.5,1770.3 1614.5,1770.3 1565.2,1778.8 1565.2,1778.8 1465.7,1787.8 1465.7,1787.8 1382.7,1792.2 1382.7,1792.2 1387.3,1786.0 1390.8,1781.4 1389.6,1771.0 1395.4,1767.6 1394.2,1764.1 1397.7,1753.7 1403.5,1746.8 1401.2,1742.7 1401.2,1742.7 1402.3,1734.1 1405.8,1726.1 1404.6,1714.6 1409.9,1716.9Z" fill="#8d52cc" stroke="#8d52cc" stroke-width="0.6" stroke-linejoin="round"/>
<path d="M1419.1,1695.3 1418.0,1689.6 1427.2,1682.7 1437.6,1688.4 1445.6,1687.3 1442.2,1674.6 1446.8,1670.0 1457.1,1667.7 1453.7,1660.8 1460.6,1657.3 1457.1,1652.7 1459.4,1647.0 1459.4,1647.0 1472.1,1644.7 1474.4,1641.7 1481.3,1642.4 1491.7,1648.1 1502.1,1637.7 1509.0,1644.7 1514.7,1634.3 1521.7,1629.2 1528.6,1634.3 1534.3,1633.1 1536.6,1625.1 1543.5,1615.9 1551.6,1607.8 1553.9,1596.3 1558.5,1597.4 1573.5,1588.2 1570.0,1579.0 1571.7,1576.7 1571.7,1576.7 1582.7,1575.5 1589.6,1579.0 1594.2,1587.1 1603.5,1589.4 1610.4,1588.2 1617.3,1592.4 1621.9,1590.5 1635.7,1591.7 1643.8,1584.7 1649.5,1596.3 1657.6,1598.6 1657.6,1598.6 1658.8,1611.2 1668.0,1622.8 1677.2,1634.3 1685.3,1640.0 1685.3,1640.0 1677.2,1650.4 1668.0,1659.6 1658.8,1667.7 1654.1,1675.8 1644.9,1685.0 1635.7,1689.6 1621.9,1693.7 1621.9,1693.7 1522.8,1701.6 1469.1,1706.5 1463.4,1707.6 1462.2,1714.1 1409.9,1716.9 1409.9,1716.9 1415.0,1710.0 1419.6,1705.3 1421.9,1696.1 1419.1,1695.3Z" fill="#4049c8" stroke="#4049c8" stroke-width="0.6" stroke-linejoin="round"/>
<path d="M1348.4,1430.6 1368.6,1428.5 1400.3,1426.4 1432.0,1423.9 1447.9,1424.1 1447.9,1424.1 1449.1,1433.8 1456.0,1447.6 1461.8,1460.3 1461.8,1460.3 1469.8,1569.8 1468.0,1585.9 1472.1,1595.1 1474.4,1602.0 1472.1,1608.9 1465.2,1620.5 1460.1,1630.8 1459.4,1647.0 1459.4,1647.0 1457.1,1652.7 1460.6,1657.3 1453.7,1660.8 1457.1,1667.7 1446.8,1670.0 1442.2,1674.6 1445.6,1687.3 1437.6,1688.4 1427.2,1682.7 1418.0,1689.6 1419.1,1695.3 1419.1,1695.3 1416.8,1693.0 1411.1,1691.9 1405.3,1681.5 1407.6,1675.8 1403.0,1668.8 1394.9,1656.2 1382.3,1650.4 1369.6,1636.6 1368.4,1629.7 1373.0,1620.5 1373.0,1613.5 1376.5,1608.9 1373.0,1604.3 1363.8,1603.2 1353.5,1599.7 1354.6,1591.7 1350.0,1585.9 1374.9,1642.6 1369.1,1635.7 1371.4,1626.5 1376.0,1605.8 1365.7,1601.2 1355.3,1600.0 1354.1,1593.1 1349.5,1585.0 1338.0,1575.8 1328.8,1566.6 1324.2,1552.8 1321.9,1542.4 1324.2,1534.3 1324.2,1534.3 1325.3,1528.6 1326.5,1522.4 1333.9,1519.4 1334.6,1513.6 1339.2,1507.8 1339.9,1499.8 1336.9,1496.3 1333.4,1490.6 1336.9,1482.9 1349.5,1480.2 1357.6,1475.6 1359.9,1469.8 1365.7,1457.1 1364.5,1451.4 1356.5,1444.5 1354.1,1438.7 1348.4,1430.6Z" fill="#c54b68" stroke="#c54b68" stroke-width="0.6" stroke-linejoin="round"/>
<path d="M1461.8,1460.3 1471.0,1462.6 1483.6,1456.4 1487.1,1454.6 1487.1,1454.6 1557.4,1448.1 1557.4,1448.1 1571.7,1576.7 1571.7,1576.7 1570.0,1579.0 1573.5,1588.2 1558.5,1597.4 1553.9,1596.3 1551.6,1607.8 1543.5,1615.9 1536.6,1625.1 1534.3,1633.1 1528.6,1634.3 1521.7,1629.2 1514.7,1634.3 1509.0,1644.7 1502.1,1637.7 1491.7,1648.1 1481.3,1642.4 1474.4,1641.7 1472.1,1644.7 1459.4,1647.0 1459.4,1647.0 1460.1,1630.8 1465.2,1620.5 1472.1,1608.9 1474.4,1602.0 1472.1,1595.1 1468.0,1585.9 1469.8,1569.8 1461.8,1460.3Z" fill="#8d52cc" stroke="#8d52cc" stroke-width="0.6" stroke-linejoin="round"/>
<path d="M1557.4,1448.1 1604.6,1442.6 1604.6,1442.6 1609.4,1445.4 1624.4,1448.9 1629.0,1451.2 1624.4,1454.7 1638.2,1454.7 1647.5,1451.2 1665.9,1444.3 1684.3,1430.5 1707.4,1416.2 1707.4,1416.2 1716.4,1482.2 1716.4,1482.2 1714.1,1484.5 1717.5,1489.1 1716.4,1500.6 1716.4,1512.2 1714.1,1526.0 1709.4,1537.5 1702.5,1545.6 1695.6,1546.3 1689.9,1551.3 1682.9,1557.1 1684.1,1564.0 1677.2,1567.5 1669.1,1579.0 1670.3,1585.9 1668.0,1595.1 1657.6,1598.6 1657.6,1598.6 1649.5,1596.3 1643.8,1584.7 1635.7,1591.7 1621.9,1590.5 1617.3,1592.4 1610.4,1588.2 1603.5,1589.4 1594.2,1587.1 1589.6,1579.0 1582.7,1575.5 1571.7,1576.7 1571.7,1576.7 1557.4,1448.1Z" fill="#c54b68" stroke="#c54b68" stroke-width="0.6" stroke-linejoin="round"/>
<path d="M1289.2,1227.5 1300.0,1227.9 1313.8,1222.2 1330.0,1215.3 1341.5,1210.6 1334.6,1226.8 1327.6,1232.5 1339.2,1226.8 1348.4,1231.4 1348.4,1231.4 1355.3,1242.9 1369.1,1248.0 1392.2,1253.3 1401.4,1256.7 1420.0,1258.8 1425.5,1262.9 1433.8,1269.9 1435.2,1279.5 1432.4,1285.1 1438.0,1286.5 1440.7,1294.7 1444.0,1295.9 1444.0,1295.9 1440.7,1304.4 1436.6,1307.2 1438.0,1312.7 1433.1,1318.2 1431.8,1325.2 1439.4,1316.9 1447.6,1304.4 1454.6,1293.4 1460.1,1285.1 1465.6,1279.8 1468.4,1279.5 1464.2,1286.5 1458.7,1298.9 1453.2,1312.7 1450.4,1323.8 1451.1,1339.0 1447.0,1345.9 1445.6,1360.0 1446.3,1371.9 1441.7,1383.5 1444.0,1397.3 1447.5,1411.1 1447.9,1424.1 1447.9,1424.1 1432.0,1423.9 1400.3,1426.4 1368.6,1428.5 1348.4,1430.6 1348.4,1430.6 1346.1,1424.9 1340.3,1423.7 1330.0,1416.8 1326.5,1405.3 1330.6,1393.8 1325.3,1391.5 1323.0,1383.9 1323.0,1383.9 1320.7,1366.1 1315.0,1359.7 1305.8,1355.8 1298.8,1350.0 1321.4,1368.0 1314.5,1360.0 1299.5,1350.7 1294.9,1342.7 1282.9,1334.1 1276.5,1333.5 1267.3,1325.4 1270.0,1312.7 1268.0,1301.2 1270.0,1294.3 1269.6,1288.5 1263.8,1286.2 1262.7,1282.8 1268.4,1271.2 1281.6,1262.0 1281.1,1232.1 1285.7,1230.9 1289.2,1227.5Z" fill="#8d52cc" stroke="#8d52cc" stroke-width="0.6" stroke-linejoin="round"/>
<path d="M1348.4,1231.4 1359.9,1222.2 1373.7,1218.7 1389.9,1209.5 1399.1,1199.1 1410.6,1188.8 1419.8,1185.3 1430.2,1185.3 1430.2,1188.8 1422.1,1191.1 1416.4,1199.1 1408.3,1211.8 1407.1,1216.4 1415.2,1210.6 1428.3,1211.8 1435.2,1215.9 1439.4,1222.9 1444.9,1229.1 1453.2,1229.1 1458.7,1227.0 1465.6,1229.8 1467.0,1224.9 1469.8,1227.7 1478.1,1221.5 1486.4,1217.3 1497.4,1215.9 1505.7,1215.3 1514.0,1210.4 1523.7,1207.4 1523.0,1220.1 1526.5,1221.5 1534.7,1220.8 1541.7,1220.1 1544.4,1218.0 1553.4,1216.2 1553.4,1224.2 1555.5,1227.7 1554.8,1231.8 1552.0,1233.2 1558.2,1236.7 1563.8,1238.1 1569.3,1236.0 1573.5,1235.3 1577.6,1239.4 1577.6,1243.9 1572.1,1245.0 1566.5,1242.2 1563.8,1244.3 1558.2,1240.8 1552.7,1239.4 1550.0,1240.8 1544.4,1242.9 1537.5,1243.6 1530.6,1247.7 1525.1,1245.7 1516.8,1243.6 1508.5,1245.0 1502.9,1250.5 1497.4,1251.2 1489.1,1251.9 1483.6,1255.3 1478.1,1262.9 1475.3,1269.9 1471.2,1268.5 1472.5,1264.3 1475.3,1258.1 1469.1,1260.2 1467.0,1264.6 1461.5,1268.5 1460.1,1262.9 1455.9,1269.9 1453.2,1279.5 1447.6,1289.2 1444.0,1295.9 1444.0,1295.9 1440.7,1294.7 1438.0,1286.5 1432.4,1285.1 1435.2,1279.5 1433.8,1269.9 1425.5,1262.9 1420.0,1258.8 1401.4,1256.7 1392.2,1253.3 1369.1,1248.0 1355.3,1242.9 1348.4,1231.4Z" fill="#c54b68" stroke="#c54b68" stroke-width="0.6" stroke-linejoin="round"/>
<path d="M1487.1,1454.6 1492.9,1443.0 1499.8,1426.9 1501.6,1418.0 1500.5,1401.9 1495.9,1385.8 1488.9,1369.6 1489.1,1360.0 1488.4,1350.0 1485.0,1343.1 1489.1,1332.1 1491.9,1323.8 1490.5,1318.2 1489.1,1312.0 1494.7,1308.6 1494.7,1303.0 1498.8,1300.3 1504.3,1294.7 1508.5,1289.2 1511.2,1286.5 1509.9,1292.0 1511.9,1303.0 1512.9,1296.1 1514.0,1290.6 1515.1,1297.5 1516.1,1304.4 1518.8,1297.5 1518.8,1290.6 1518.2,1282.3 1522.3,1276.8 1527.8,1275.4 1531.3,1274.0 1526.5,1269.9 1525.1,1265.7 1526.5,1261.6 1529.2,1257.4 1529.2,1257.4 1534.7,1255.3 1540.3,1256.7 1545.8,1259.5 1550.0,1258.8 1558.2,1261.6 1566.5,1264.3 1576.2,1268.5 1584.5,1275.4 1590.0,1282.3 1592.8,1290.6 1592.2,1303.7 1608.3,1326.8 1622.1,1349.8 1631.3,1365.9 1633.6,1377.5 1633.2,1394.7 1626.7,1395.4 1624.4,1401.7 1622.1,1412.0 1615.2,1414.3 1613.4,1430.5 1608.3,1438.5 1604.6,1442.6 1604.6,1442.6 1557.4,1448.1 1557.4,1448.1 1487.1,1454.6Z" fill="#c54b68" stroke="#c54b68" stroke-width="0.6" stroke-linejoin="round"/>
<path d="M1707.4,1416.2 1721.2,1405.1 1731.6,1398.2 1731.6,1398.2 1733.2,1410.9 1811.1,1396.4 1887.1,1380.9 1885.7,1380.6 1891.5,1384.1 1896.1,1389.9 1903.0,1399.1 1914.5,1405.5 1914.5,1405.5 1911.1,1417.5 1906.5,1426.7 1909.9,1432.5 1907.6,1438.2 1908.8,1444.0 1916.8,1452.1 1929.5,1463.6 1921.4,1469.4 1914.5,1477.4 1908.8,1483.2 1904.1,1486.2 1904.1,1486.2 1900.6,1484.4 1897.4,1486.9 1896.1,1492.4 1896.1,1492.4 1829.7,1505.8 1762.9,1518.7 1762.9,1518.7 1724.9,1524.2 1716.4,1482.2 1716.4,1482.2 1707.4,1416.2Z" fill="#c54b68" stroke="#c54b68" stroke-width="0.6" stroke-linejoin="round"/>
<path d="M1731.6,1398.2 1741.9,1386.7 1751.2,1375.2 1757.6,1367.1 1754.6,1361.3 1748.8,1355.6 1747.0,1347.5 1753.5,1342.9 1767.3,1337.6 1790.3,1334.1 1798.4,1337.1 1806.5,1333.7 1822.6,1329.1 1831.8,1322.2 1841.0,1315.3 1841.0,1308.3 1837.6,1301.4 1839.9,1296.8 1831.8,1292.2 1831.8,1285.3 1845.6,1271.5 1852.5,1260.0 1861.8,1246.1 1868.7,1239.2 1880.2,1233.5 1850.0,1258.5 1854.6,1248.2 1863.8,1238.9 1873.0,1233.9 1923.7,1222.8 1923.7,1222.8 1922.6,1229.7 1926.0,1234.3 1926.0,1245.9 1931.1,1250.5 1930.2,1264.3 1933.4,1273.5 1937.6,1282.7 1935.7,1287.3 1938.7,1290.8 1942.2,1289.6 1945.6,1298.8 1950.2,1326.5 1950.2,1326.5 1950.9,1362.2 1950.9,1362.2 1958.3,1396.8 1961.1,1402.5 1956.5,1410.1 1956.5,1410.1 1953.7,1415.2 1951.4,1422.1 1949.5,1429.0 1949.5,1429.0 1949.1,1416.4 1914.5,1405.5 1914.5,1405.5 1903.0,1399.1 1896.1,1389.9 1891.5,1384.1 1885.7,1380.6 1887.1,1380.9 1811.1,1396.4 1733.2,1410.9 1731.6,1398.2Z" fill="#8d52cc" stroke="#8d52cc" stroke-width="0.6" stroke-linejoin="round"/>
<path d="M1914.5,1405.5 1949.1,1416.4 1949.5,1429.0 1949.5,1429.0 1951.4,1438.2 1953.7,1449.8 1955.5,1470.5 1952.5,1484.3 1954.8,1480.0 1951.3,1497.3 1944.4,1503.0 1939.8,1516.9 1934.1,1523.2 1932.9,1512.8 1927.1,1511.1 1923.7,1513.4 1915.6,1508.8 1910.4,1503.0 1907.0,1499.0 1905.3,1492.7 1904.1,1486.2 1904.1,1486.2 1908.8,1483.2 1914.5,1477.4 1921.4,1469.4 1929.5,1463.6 1916.8,1452.1 1908.8,1444.0 1907.6,1438.2 1909.9,1432.5 1906.5,1426.7 1911.1,1417.5 1914.5,1405.5Z" fill="#c54b68" stroke="#c54b68" stroke-width="0.6" stroke-linejoin="round"/>
<path d="M1896.1,1492.4 1897.4,1486.9 1900.6,1484.4 1904.1,1486.2 1904.1,1486.2 1903.2,1492.7 1905.3,1499.8 1910.4,1505.9 1915.0,1511.3 1916.5,1516.9 1920.0,1522.6 1923.7,1526.3 1930.6,1529.8 1934.1,1535.3 1935.3,1545.4 1935.3,1545.4 1911.1,1550.0 1896.1,1492.4Z" fill="#c54b68" stroke="#c54b68" stroke-width="0.6" stroke-linejoin="round"/>
<path d="M1923.7,1222.8 1983.2,1208.5 1983.2,1208.5 1985.9,1213.6 1983.6,1220.5 1987.8,1228.6 1985.9,1235.5 1981.3,1240.1 1975.6,1243.5 1974.4,1248.2 1977.2,1255.1 1976.3,1264.3 1974.4,1271.2 1972.1,1289.6 1975.6,1301.2 1974.0,1312.7 1976.3,1321.4 1976.3,1321.4 1950.2,1326.5 1950.2,1326.5 1945.6,1298.8 1942.2,1289.6 1938.7,1290.8 1935.7,1287.3 1937.6,1282.7 1933.4,1273.5 1930.2,1264.3 1931.1,1250.5 1926.0,1245.9 1926.0,1234.3 1922.6,1229.7 1923.7,1222.8Z" fill="#246bfd" stroke="#246bfd" stroke-width="0.6" stroke-linejoin="round"/>
<path d="M1983.2,1208.5 1982.5,1199.8 1984.8,1194.0 1988.2,1191.7 1995.2,1195.2 1995.2,1195.2 2011.3,1245.9 2022.8,1280.4 2030.9,1287.3 2035.5,1291.9 2035.5,1291.9 2033.9,1300.0 2033.9,1300.0 2029.7,1302.3 2020.5,1310.4 1976.3,1321.4 1976.3,1321.4 1974.0,1312.7 1975.6,1301.2 1972.1,1289.6 1974.4,1271.2 1976.3,1264.3 1977.2,1255.1 1974.4,1248.2 1975.6,1243.5 1981.3,1240.1 1985.9,1235.5 1987.8,1228.6 1983.6,1220.5 1985.9,1213.6 1983.2,1208.5Z" fill="#4049c8" stroke="#4049c8" stroke-width="0.6" stroke-linejoin="round"/>
<path d="M1995.2,1195.2 2002.1,1188.2 2003.2,1174.4 2011.3,1160.6 2009.0,1146.8 2009.0,1137.6 2012.4,1130.6 2011.3,1119.1 2026.3,1073.0 2032.0,1073.0 2034.3,1081.1 2040.1,1082.3 2052.8,1071.9 2059.7,1069.6 2071.2,1073.0 2077.0,1077.6 2085.0,1100.7 2096.5,1142.2 2109.2,1141.7 2113.8,1156.0 2118.4,1160.6 2123.0,1158.3 2130.0,1164.1 2134.6,1173.3 2130.0,1182.5 2124.2,1188.2 2118.4,1189.4 2111.5,1197.5 2108.1,1204.4 2098.8,1206.7 2091.9,1215.9 2085.0,1222.8 2078.1,1229.7 2071.2,1236.6 2066.6,1241.2 2057.4,1250.5 2050.5,1252.8 2045.9,1259.7 2048.2,1264.3 2041.2,1271.2 2038.9,1280.4 2037.8,1289.6 2035.5,1291.9 2035.5,1291.9 2030.9,1287.3 2022.8,1280.4 2011.3,1245.9 1995.2,1195.2Z" fill="#4049c8" stroke="#4049c8" stroke-width="0.6" stroke-linejoin="round"/>
<path d="M1950.2,1326.5 1976.3,1321.4 1976.3,1321.4 2020.5,1310.4 2029.7,1302.3 2033.9,1300.0 2033.9,1300.0 2041.2,1306.9 2042.4,1311.5 2036.6,1319.6 2034.3,1325.3 2038.9,1331.1 2048.2,1335.7 2052.8,1340.3 2057.4,1347.2 2063.1,1349.5 2067.7,1346.1 2063.1,1334.6 2066.6,1332.3 2074.7,1339.2 2078.1,1346.1 2079.3,1353.0 2083.9,1365.7 2080.4,1369.1 2071.2,1366.8 2062.0,1370.3 2055.1,1372.6 2048.2,1365.7 2045.9,1369.1 2041.2,1366.8 2035.5,1366.8 2035.5,1366.8 2033.2,1361.1 2027.9,1358.1 2024.0,1347.2 2011.3,1350.2 2011.3,1350.2 1979.0,1356.5 1976.3,1359.4 1975.6,1357.6 1950.9,1362.2 1950.9,1362.2 1950.2,1326.5Z" fill="#8d52cc" stroke="#8d52cc" stroke-width="0.6" stroke-linejoin="round"/>
<path d="M2011.3,1350.2 2024.0,1347.2 2027.9,1358.1 2033.2,1361.1 2035.5,1366.8 2035.5,1366.8 2032.0,1373.7 2026.3,1378.3 2019.4,1381.8 2019.4,1381.8 2011.3,1350.2Z" fill="#246bfd" stroke="#246bfd" stroke-width="0.6" stroke-linejoin="round"/>
<path d="M1950.9,1362.2 1975.6,1357.6 1976.3,1359.4 1979.0,1356.5 2011.3,1350.2 2011.3,1350.2 2019.4,1381.8 2019.4,1381.8 1999.8,1388.7 1979.0,1395.6 1965.2,1403.7 1956.5,1410.1 1956.5,1410.1 1961.1,1402.5 1958.3,1396.8 1950.9,1362.2Z" fill="#8d52cc" stroke="#8d52cc" stroke-width="0.6" stroke-linejoin="round"/>
<path d="M1657.6,1598.6 1668.0,1595.1 1670.3,1585.9 1669.1,1579.0 1677.2,1567.5 1684.1,1564.0 1682.9,1557.1 1689.9,1551.3 1695.6,1546.3 1702.5,1545.6 1709.4,1537.5 1714.1,1526.0 1716.4,1512.2 1716.4,1500.6 1717.5,1489.1 1714.1,1484.5 1716.4,1482.2 1716.4,1482.2 1724.9,1524.2 1762.9,1518.7 1762.9,1518.7 1766.4,1542.2 1774.4,1535.3 1777.9,1529.5 1785.9,1526.0 1788.2,1521.4 1797.5,1519.1 1805.5,1513.4 1811.3,1511.1 1815.9,1514.1 1821.7,1513.4 1825.1,1518.0 1827.4,1521.4 1829.3,1527.2 1827.4,1534.1 1827.4,1534.1 1806.7,1523.7 1803.2,1539.9 1797.5,1551.4 1792.9,1558.3 1787.1,1557.1 1781.3,1577.9 1774.4,1576.7 1767.5,1573.3 1764.1,1579.0 1762.9,1588.2 1758.3,1597.5 1751.4,1615.9 1749.1,1621.7 1751.4,1627.4 1744.5,1634.3 1742.2,1630.9 1730.6,1635.5 1728.3,1641.2 1718.0,1647.0 1712.2,1644.7 1704.1,1650.5 1696.1,1648.2 1690.3,1642.4 1685.3,1640.0 1685.3,1640.0 1677.2,1634.3 1668.0,1622.8 1658.8,1611.2 1657.6,1598.6Z" fill="#246bfd" stroke="#246bfd" stroke-width="0.6" stroke-linejoin="round"/>
<path d="M1762.9,1518.7 1829.7,1505.8 1896.1,1492.4 1896.1,1492.4 1911.1,1550.0 1935.3,1545.4 1935.3,1545.4 1935.7,1558.3 1932.3,1569.8 1932.3,1569.8 1923.7,1572.2 1916.8,1575.6 1912.2,1577.9 1899.5,1580.8 1900.0,1585.9 1900.0,1585.9 1894.9,1577.9 1888.0,1576.8 1882.2,1573.3 1875.3,1571.0 1868.4,1569.9 1862.6,1564.1 1856.9,1567.6 1854.0,1565.8 1853.4,1560.6 1855.7,1554.9 1854.0,1550.9 1858.0,1549.1 1861.5,1543.9 1858.0,1537.6 1854.6,1536.5 1850.0,1537.0 1840.7,1534.1 1839.0,1530.7 1833.8,1526.1 1829.2,1524.4 1827.4,1534.1 1827.4,1534.1 1829.3,1527.2 1827.4,1521.4 1825.1,1518.0 1821.7,1513.4 1815.9,1514.1 1811.3,1511.1 1805.5,1513.4 1797.5,1519.1 1788.2,1521.4 1785.9,1526.0 1777.9,1529.5 1774.4,1535.3 1766.4,1542.2 1762.9,1518.7Z" fill="#f25040" stroke="#f25040" stroke-width="0.6" stroke-linejoin="round"/>
<path d="M1685.3,1640.0 1690.3,1642.4 1696.1,1648.2 1704.1,1650.5 1712.2,1644.7 1718.0,1647.0 1728.3,1641.2 1730.6,1635.5 1742.2,1630.9 1744.5,1634.3 1751.4,1627.4 1749.1,1621.7 1751.4,1615.9 1758.3,1597.5 1762.9,1588.2 1764.1,1579.0 1767.5,1573.3 1774.4,1576.7 1781.3,1577.9 1787.1,1557.1 1792.9,1558.3 1797.5,1551.4 1803.2,1539.9 1806.7,1523.7 1827.4,1534.1 1827.4,1534.1 1829.2,1524.4 1833.8,1526.1 1839.0,1530.7 1840.7,1534.1 1850.0,1537.0 1854.6,1536.5 1858.0,1537.6 1861.5,1543.9 1858.0,1549.1 1854.0,1550.9 1855.7,1554.9 1853.4,1560.6 1854.0,1565.8 1856.9,1567.6 1862.6,1564.1 1868.4,1569.9 1875.3,1571.0 1882.2,1573.3 1888.0,1576.8 1894.9,1577.9 1900.0,1585.9 1900.0,1585.9 1899.5,1580.8 1912.2,1577.9 1916.8,1575.6 1923.7,1572.2 1932.3,1569.8 1932.3,1569.8 1928.8,1579.0 1925.3,1588.2 1923.0,1597.5 1920.7,1609.0 1917.3,1618.2 1915.0,1625.1 1918.4,1634.3 1920.7,1644.7 1920.7,1644.7 1811.3,1666.6 1704.8,1681.5 1704.8,1681.5 1621.9,1693.7 1621.9,1693.7 1635.7,1689.6 1644.9,1685.0 1654.1,1675.8 1658.8,1667.7 1668.0,1659.6 1677.2,1650.4 1685.3,1640.0Z" fill="#c54b68" stroke="#c54b68" stroke-width="0.6" stroke-linejoin="round"/>
<path d="M1704.8,1681.5 1811.3,1666.6 1920.7,1644.7 1920.7,1644.7 1924.5,1650.0 1929.1,1658.0 1933.7,1666.1 1928.0,1662.1 1922.8,1661.5 1917.6,1665.5 1909.5,1669.5 1901.5,1673.6 1900.9,1677.0 1906.1,1675.3 1911.8,1672.4 1919.9,1670.7 1926.8,1671.3 1934.9,1670.1 1938.3,1674.1 1940.6,1679.9 1940.1,1685.7 1936.0,1689.1 1932.6,1692.6 1932.0,1698.3 1928.0,1702.4 1922.2,1704.7 1911.8,1704.7 1914.7,1707.6 1915.3,1712.2 1912.4,1720.8 1916.5,1717.9 1922.8,1723.7 1926.2,1722.5 1922.2,1730.6 1919.9,1739.8 1914.1,1737.5 1906.1,1739.8 1898.0,1744.4 1888.8,1752.5 1879.6,1761.7 1875.0,1768.6 1872.7,1779.0 1870.9,1787.6 1866.9,1785.9 1860.0,1787.1 1850.2,1791.0 1850.2,1791.0 1796.1,1754.6 1752.3,1761.1 1752.3,1755.3 1744.2,1748.4 1741.9,1750.7 1739.6,1746.8 1688.9,1751.8 1672.8,1761.1 1660.6,1766.1 1660.6,1766.1 1614.5,1770.3 1614.5,1770.3 1614.5,1760.4 1622.1,1757.6 1625.6,1748.4 1635.9,1741.5 1644.0,1739.2 1652.1,1731.1 1661.3,1726.5 1663.6,1717.3 1668.0,1713.8 1674.9,1716.1 1677.2,1711.5 1686.4,1708.0 1695.6,1703.4 1700.2,1694.2 1706.0,1689.6 1704.8,1681.5Z" fill="#8d52cc" stroke="#8d52cc" stroke-width="0.6" stroke-linejoin="round"/>
<path d="M1660.6,1766.1 1672.8,1761.1 1688.9,1751.8 1739.6,1746.8 1741.9,1750.7 1744.2,1748.4 1752.3,1755.3 1752.3,1761.1 1796.1,1754.6 1850.2,1791.0 1850.2,1791.0 1836.4,1801.4 1830.6,1815.2 1829.5,1829.0 1818.0,1839.4 1815.7,1841.7 1806.5,1856.7 1794.9,1864.7 1785.7,1871.7 1778.8,1882.0 1771.9,1891.2 1771.9,1891.2 1761.5,1891.2 1753.5,1875.1 1747.7,1870.5 1744.2,1863.6 1737.3,1850.9 1724.7,1842.9 1718.9,1835.9 1707.4,1826.7 1698.2,1817.5 1688.9,1810.6 1682.0,1801.4 1672.8,1789.9 1665.9,1788.7 1657.8,1784.1 1653.9,1778.3 1660.6,1766.1Z" fill="#4049c8" stroke="#4049c8" stroke-width="0.6" stroke-linejoin="round"/>
<path d="M1565.2,1778.8 1614.5,1770.3 1614.5,1770.3 1660.6,1766.1 1660.6,1766.1 1653.9,1778.3 1657.8,1784.1 1665.9,1788.7 1672.8,1789.9 1682.0,1801.4 1688.9,1810.6 1698.2,1817.5 1707.4,1826.7 1718.9,1835.9 1724.7,1842.9 1737.3,1850.9 1744.2,1863.6 1747.7,1870.5 1753.5,1875.1 1761.5,1891.2 1771.9,1891.2 1771.9,1891.2 1765.0,1909.7 1762.7,1930.4 1756.9,1944.2 1758.1,1960.4 1758.1,1960.4 1746.5,1961.5 1737.3,1958.1 1732.7,1962.7 1735.0,1969.6 1735.0,1980.0 1729.3,1981.1 1727.0,1973.0 1617.5,1979.3 1609.4,1966.1 1609.4,1966.1 1604.8,1955.8 1605.5,1941.9 1600.2,1929.3 1602.5,1915.4 1607.1,1906.2 1603.0,1902.8 1603.0,1897.0 1599.1,1891.2 1592.2,1875.1 1565.2,1778.8Z" fill="#f25040" stroke="#f25040" stroke-width="0.6" stroke-linejoin="round"/>
<path d="M1511.8,2010.6 1512.9,1993.3 1507.2,1988.7 1502.6,1981.8 1503.7,1978.3 1609.4,1966.1 1609.4,1966.1 1617.5,1979.3 1727.0,1973.0 1729.3,1981.1 1735.0,1980.0 1735.0,1969.6 1732.7,1962.7 1737.3,1958.1 1746.5,1961.5 1758.1,1960.4 1758.1,1960.4 1763.7,1978.8 1770.9,1996.1 1782.4,2019.1 1796.8,2039.3 1812.7,2059.4 1811.2,2065.2 1819.9,2085.4 1834.3,2114.2 1845.8,2134.3 1847.2,2151.6 1850.1,2180.4 1850.1,2194.8 1842.9,2209.2 1831.4,2217.9 1819.9,2220.7 1811.2,2219.3 1808.3,2206.3 1796.8,2191.9 1785.3,2191.9 1779.5,2186.2 1770.9,2168.9 1759.4,2164.6 1750.7,2151.6 1739.2,2134.3 1727.7,2119.9 1719.1,2102.6 1719.1,2088.2 1724.8,2073.8 1721.9,2059.4 1710.4,2045.0 1698.9,2039.3 1684.5,2024.9 1670.1,2013.4 1655.7,2006.2 1644.2,2009.0 1642.7,2016.2 1629.8,2022.0 1615.4,2028.3 1603.8,2029.2 1595.2,2019.1 1575.0,2009.0 1557.8,2004.1 1540.5,2004.7 1523.2,2007.6 1511.8,2010.6Z" fill="#c54b68" stroke="#c54b68" stroke-width="0.6" stroke-linejoin="round"/>
</g>
<g id="borders" fill="none" stroke="#0b0b0b" stroke-width="1.9" stroke-linejoin="round" stroke-linecap="round">
<path d="M489.1,1048.2 461.7,1168.6 462.0,1179.5 461.2,1189.2"/>
<path d="M233.4,1115.9 236.4,1119.4 244.5,1121.7 252.5,1123.3 253.7,1127.5 261.8,1129.3 267.5,1135.5 269.1,1141.3 268.7,1150.5 267.5,1157.9 274.4,1162.5 281.3,1166.6 290.6,1165.5 296.3,1163.6 302.1,1165.0 307.8,1164.3 315.9,1169.4 321.7,1172.4 327.4,1174.2 334.3,1171.7 339.4,1171.7 341.2,1175.4 350.5,1176.3 355.1,1174.7 366.6,1174.2 371.9,1171.9 375.8,1174.0 388.5,1176.3 394.2,1174.0 461.2,1189.2"/>
<path d="M415.2,1377.1 435.7,1270.3 435.7,1260.0 443.8,1247.3 452.3,1242.7 454.1,1236.9 459.9,1230.0 469.1,1217.3 473.0,1210.4 470.3,1202.4 463.4,1193.1 460.4,1189.2"/>
<path d="M312.5,1352.3 346.6,1360.9 380.9,1369.2 415.2,1377.1"/>
<path d="M168.4,1311.7 204.3,1322.4 240.2,1332.8 276.3,1342.7 312.5,1352.3"/>
<path d="M433.7,1726.4 276.1,1493.5 312.5,1352.3"/>
<path d="M407.6,1835.3 414.6,1834.2 420.8,1827.3 419.2,1822.7 413.4,1819.2 412.3,1814.6 415.7,1803.1 420.8,1800.8 427.2,1781.2 429.5,1774.3 434.1,1770.8 444.5,1767.4 445.7,1762.8 439.9,1751.2 436.5,1739.7 431.8,1731.7 433.7,1726.4"/>
<path d="M519.3,1398.8 484.5,1391.9 449.8,1384.7 415.2,1377.1"/>
<path d="M474.9,1638.8 519.3,1398.8"/>
<path d="M433.7,1726.4 436.5,1709.8 437.6,1695.9 438.8,1675.2 446.8,1673.4 453.7,1675.2 457.2,1682.1 461.8,1681.7 466.9,1675.2 474.9,1638.8"/>
<path d="M520.3,1056.0 509.9,1103.7 518.0,1119.9 514.5,1130.2 523.7,1141.3 527.2,1143.4 535.3,1161.3 535.9,1165.9 541.0,1171.7 544.5,1175.9 552.5,1176.3 535.7,1216.6 535.3,1225.9 538.0,1227.0 542.2,1232.8 555.5,1224.7 560.1,1230.5 561.1,1239.7 565.2,1257.0 569.8,1266.2 576.3,1273.1 577.2,1288.1 581.8,1293.8 585.9,1288.5 600.9,1292.0 604.8,1289.7 625.1,1293.1 630.9,1285.8 635.0,1284.6 637.8,1289.2 641.7,1298.4"/>
<path d="M641.7,1298.4 624.0,1417.2"/>
<path d="M624.0,1417.2 589.0,1411.4 554.1,1405.3 519.3,1398.8"/>
<path d="M899.5,1111.5 887.1,1257.5"/>
<path d="M887.1,1257.5 883.3,1302.7"/>
<path d="M646.9,1273.8 694.0,1280.9 741.2,1287.4 788.5,1293.2 835.8,1298.3 883.3,1302.7"/>
<path d="M641.7,1298.4 646.9,1273.8"/>
<path d="M883.3,1302.7 875.1,1399.0"/>
<path d="M875.1,1399.0 866.9,1495.8"/>
<path d="M866.9,1495.8 822.0,1491.7 777.2,1487.0 732.4,1481.7 687.7,1475.8"/>
<path d="M687.7,1475.8 616.3,1465.2 624.0,1417.2"/>
<path d="M687.7,1475.8 661.0,1668.5"/>
<path d="M661.0,1668.5 613.9,1661.7 566.8,1654.3 519.9,1646.2 474.9,1638.8"/>
<path d="M866.9,1495.8 938.8,1501.1 935.8,1549.6"/>
<path d="M935.8,1549.6 926.8,1695.3"/>
<path d="M926.8,1695.3 890.3,1692.8"/>
<path d="M890.3,1692.8 844.4,1689.1 798.4,1684.9 752.6,1680.0 706.8,1674.6 661.0,1668.5"/>
<path d="M661.0,1668.5 624.5,1939.9"/>
<path d="M890.3,1692.8 888.5,1717.1"/>
<path d="M888.5,1717.1 870.0,1934.8"/>
<path d="M870.0,1934.8 724.1,1919.6 725.9,1930.6"/>
<path d="M1118.2,1123.1 1123.3,1139.9 1121.0,1145.7 1122.1,1149.1 1120.3,1160.6 1125.6,1179.1 1129.5,1195.2 1130.9,1213.6 1133.6,1227.5 1132.5,1236.7 1138.2,1252.8 1138.9,1269.4"/>
<path d="M1138.9,1269.4 1106.6,1268.5 1062.7,1267.6 1018.7,1265.9 974.8,1263.7 931.0,1260.9 887.1,1257.5"/>
<path d="M1138.9,1269.4 1138.2,1275.9 1135.9,1280.5 1130.2,1284.4 1134.1,1294.3 1138.2,1296.1 1143.3,1298.9 1142.2,1386.4"/>
<path d="M1142.2,1386.4 1137.1,1386.4 1137.1,1390.3 1139.9,1394.9 1137.6,1398.4 1141.0,1401.8 1143.3,1405.3 1141.0,1413.4 1138.7,1421.4 1137.1,1427.9"/>
<path d="M875.1,1399.0 906.8,1401.6 938.6,1403.8 970.4,1405.8 1002.2,1407.4 1034.0,1408.7 1065.8,1409.7 1070.7,1410.4 1077.6,1416.8 1085.7,1421.9 1090.3,1421.4 1092.6,1418.0 1112.2,1417.5 1116.8,1419.1 1121.4,1422.6 1130.6,1425.6 1134.1,1429.5 1137.1,1427.9"/>
<path d="M1137.1,1427.9 1137.6,1434.1 1142.2,1435.7 1144.5,1442.2 1145.6,1453.7 1151.4,1467.5 1153.7,1476.7 1159.4,1488.2 1160.6,1499.8 1163.4,1505.5 1162.9,1519.4 1167.5,1527.9"/>
<path d="M1167.5,1527.9 1169.8,1534.3 1175.6,1545.9 1180.2,1555.1"/>
<path d="M1180.2,1555.1 1171.6,1556.6 1132.2,1556.6 1092.9,1556.1 1053.6,1555.1 1014.3,1553.7 975.0,1551.9 935.8,1549.6"/>
<path d="M1180.2,1555.1 1188.2,1562.0 1194.0,1561.3 1197.5,1566.6 1191.0,1574.7 1190.6,1579.3 1197.5,1587.3 1202.1,1596.5 1209.0,1597.7 1209.5,1702.3"/>
<path d="M1209.5,1702.3 1162.4,1702.6 1115.3,1702.4 1068.1,1701.6 1021.0,1700.1 973.9,1698.0 926.8,1695.3"/>
<path d="M1209.5,1702.3 1210.4,1725.6"/>
<path d="M1210.4,1725.6 1218.1,1776.0 1218.5,1803.7 1216.9,1863.6"/>
<path d="M888.5,1717.1 1003.5,1723.7 1001.0,1818.0 1008.4,1823.3 1015.3,1826.7 1021.1,1824.4 1026.8,1825.6 1031.4,1834.8 1040.6,1837.1 1047.6,1840.1 1054.5,1838.2 1060.2,1842.9 1064.8,1839.4 1070.6,1841.7 1079.8,1852.1 1085.6,1853.2 1091.3,1848.6 1100.6,1852.1 1104.0,1856.7 1109.8,1852.1 1113.2,1861.3 1120.1,1850.9 1130.5,1855.5 1137.4,1856.7 1144.3,1860.1 1151.2,1858.5 1153.5,1855.5 1165.1,1855.5 1175.4,1851.6 1177.7,1853.9 1187.0,1853.2 1189.3,1849.8 1199.6,1856.7 1208.8,1861.3 1216.9,1863.6"/>
<path d="M1216.9,1863.6 1225.0,1869.4 1229.6,1867.1 1236.0,1868.2 1237.6,1893.5"/>
<path d="M1237.6,1893.5 1237.6,1932.7 1240.0,1944.2 1245.7,1953.5 1246.9,1960.4 1253.8,1971.9 1256.1,1980.0 1259.5,1982.3 1237.6,1932.3 1239.9,1943.8 1245.7,1951.8 1248.0,1962.2 1254.9,1971.4 1257.2,1980.6 1259.5,1982.9 1258.3,1999.1 1252.6,2010.6 1253.7,2017.5 1251.4,2021.0 1252.6,2031.3 1250.3,2040.6 1244.5,2049.8 1248.0,2054.8"/>
<path d="M1289.2,1227.5 1285.7,1230.9 1281.1,1232.1 1281.6,1262.0 1268.4,1271.2 1262.7,1282.8 1263.8,1286.2 1269.6,1288.5 1270.0,1294.3 1268.0,1301.2 1270.0,1312.7 1267.3,1325.4 1276.5,1333.5 1282.9,1334.1 1294.9,1342.7 1299.5,1350.7 1314.5,1360.0 1321.4,1368.0 1298.8,1350.0 1305.8,1355.8 1315.0,1359.7 1320.7,1366.1 1323.0,1383.9"/>
<path d="M1142.2,1386.4 1174.3,1386.7 1214.9,1386.3 1255.5,1385.3 1296.1,1383.8 1323.0,1383.9"/>
<path d="M1323.0,1383.9 1325.3,1391.5 1330.6,1393.8 1326.5,1405.3 1330.0,1416.8 1340.3,1423.7 1346.1,1424.9 1348.4,1430.6"/>
<path d="M1348.4,1430.6 1354.1,1438.7 1356.5,1444.5 1364.5,1451.4 1365.7,1457.1 1359.9,1469.8 1357.6,1475.6 1349.5,1480.2 1336.9,1482.9 1333.4,1490.6 1336.9,1496.3 1339.9,1499.8 1339.2,1507.8 1334.6,1513.6 1333.9,1519.4 1326.5,1522.4 1325.3,1528.6 1324.2,1534.3"/>
<path d="M1167.5,1527.9 1234.3,1527.0 1312.7,1524.4 1318.4,1532.0 1324.2,1534.3"/>
<path d="M1324.2,1534.3 1321.9,1542.4 1324.2,1552.8 1328.8,1566.6 1338.0,1575.8 1349.5,1585.0 1354.1,1593.1 1355.3,1600.0 1365.7,1601.2 1376.0,1605.8 1371.4,1626.5 1369.1,1635.7 1374.9,1642.6 1350.0,1585.9 1354.6,1591.7 1353.5,1599.7 1363.8,1603.2 1373.0,1604.3 1376.5,1608.9 1373.0,1613.5 1373.0,1620.5 1368.4,1629.7 1369.6,1636.6 1382.3,1650.4 1394.9,1656.2 1403.0,1668.8 1407.6,1675.8 1405.3,1681.5 1411.1,1691.9 1416.8,1693.0 1419.1,1695.3"/>
<path d="M1419.1,1695.3 1421.9,1696.1 1419.6,1705.3 1415.0,1710.0 1409.9,1716.9"/>
<path d="M1409.9,1716.9 1404.6,1714.6 1405.8,1726.1 1402.3,1734.1 1401.2,1742.7"/>
<path d="M1210.4,1725.6 1297.5,1723.1 1382.7,1720.3 1386.2,1728.4 1377.0,1744.1 1401.2,1742.7"/>
<path d="M1401.2,1742.7 1403.5,1746.8 1397.7,1753.7 1394.2,1764.1 1395.4,1767.6 1389.6,1771.0 1390.8,1781.4 1387.3,1786.0 1382.7,1792.2"/>
<path d="M1382.7,1792.2 1380.4,1799.8 1373.5,1809.0 1371.2,1822.9 1363.1,1827.5 1358.5,1836.7 1359.7,1841.3 1352.8,1845.9 1350.5,1857.4 1348.2,1864.3 1351.6,1871.2 1350.5,1875.9 1353.9,1882.8 1352.8,1888.5 1350.0,1892.0"/>
<path d="M1350.0,1892.0 1292.9,1893.4 1237.6,1893.5"/>
<path d="M1350.0,1892.0 1352.8,1905.8 1356.2,1915.0 1359.7,1921.9 1358.5,1928.8 1355.1,1930.0 1359.7,1933.5 1350.5,1947.3 1343.5,1956.5 1340.1,1968.0 1351.7,1944.9 1343.6,1957.6 1340.1,1966.8 1337.4,1988.7 1416.9,1984.6 1411.6,2000.2 1421.9,2015.2"/>
<path d="M1382.7,1792.2 1465.7,1787.8"/>
<path d="M1465.7,1787.8 1468.0,1792.9 1464.5,1933.5 1466.8,1951.9 1465.7,1941.5 1473.8,2011.1"/>
<path d="M1465.7,1787.8 1565.2,1778.8"/>
<path d="M1565.2,1778.8 1592.2,1875.1 1599.1,1891.2 1603.0,1897.0 1603.0,1902.8 1607.1,1906.2 1602.5,1915.4 1600.2,1929.3 1605.5,1941.9 1604.8,1955.8 1609.4,1966.1"/>
<path d="M1609.4,1966.1 1503.7,1978.3 1502.6,1981.8 1507.2,1988.7 1512.9,1993.3 1511.8,2010.6"/>
<path d="M1409.9,1716.9 1462.2,1714.1 1463.4,1707.6 1469.1,1706.5 1522.8,1701.6 1621.9,1693.7"/>
<path d="M1621.9,1693.7 1704.8,1681.5"/>
<path d="M1704.8,1681.5 1706.0,1689.6 1700.2,1694.2 1695.6,1703.4 1686.4,1708.0 1677.2,1711.5 1674.9,1716.1 1668.0,1713.8 1663.6,1717.3 1661.3,1726.5 1652.1,1731.1 1644.0,1739.2 1635.9,1741.5 1625.6,1748.4 1622.1,1757.6 1614.5,1760.4 1614.5,1770.3"/>
<path d="M1614.5,1770.3 1565.2,1778.8"/>
<path d="M1459.4,1647.0 1457.1,1652.7 1460.6,1657.3 1453.7,1660.8 1457.1,1667.7 1446.8,1670.0 1442.2,1674.6 1445.6,1687.3 1437.6,1688.4 1427.2,1682.7 1418.0,1689.6 1419.1,1695.3"/>
<path d="M1459.4,1647.0 1472.1,1644.7 1474.4,1641.7 1481.3,1642.4 1491.7,1648.1 1502.1,1637.7 1509.0,1644.7 1514.7,1634.3 1521.7,1629.2 1528.6,1634.3 1534.3,1633.1 1536.6,1625.1 1543.5,1615.9 1551.6,1607.8 1553.9,1596.3 1558.5,1597.4 1573.5,1588.2 1570.0,1579.0 1571.7,1576.7"/>
<path d="M1571.7,1576.7 1582.7,1575.5 1589.6,1579.0 1594.2,1587.1 1603.5,1589.4 1610.4,1588.2 1617.3,1592.4 1621.9,1590.5 1635.7,1591.7 1643.8,1584.7 1649.5,1596.3 1657.6,1598.6"/>
<path d="M1657.6,1598.6 1658.8,1611.2 1668.0,1622.8 1677.2,1634.3 1685.3,1640.0"/>
<path d="M1685.3,1640.0 1677.2,1650.4 1668.0,1659.6 1658.8,1667.7 1654.1,1675.8 1644.9,1685.0 1635.7,1689.6 1621.9,1693.7"/>
<path d="M1348.4,1430.6 1368.6,1428.5 1400.3,1426.4 1432.0,1423.9 1447.9,1424.1"/>
<path d="M1461.8,1460.3 1469.8,1569.8 1468.0,1585.9 1472.1,1595.1 1474.4,1602.0 1472.1,1608.9 1465.2,1620.5 1460.1,1630.8 1459.4,1647.0"/>
<path d="M1487.1,1454.6 1557.4,1448.1"/>
<path d="M1557.4,1448.1 1571.7,1576.7"/>
<path d="M1557.4,1448.1 1604.6,1442.6"/>
<path d="M1707.4,1416.2 1716.4,1482.2"/>
<path d="M1657.6,1598.6 1668.0,1595.1 1670.3,1585.9 1669.1,1579.0 1677.2,1567.5 1684.1,1564.0 1682.9,1557.1 1689.9,1551.3 1695.6,1546.3 1702.5,1545.6 1709.4,1537.5 1714.1,1526.0 1716.4,1512.2 1716.4,1500.6 1717.5,1489.1 1714.1,1484.5 1716.4,1482.2"/>
<path d="M1348.4,1231.4 1355.3,1242.9 1369.1,1248.0 1392.2,1253.3 1401.4,1256.7 1420.0,1258.8 1425.5,1262.9 1433.8,1269.9 1435.2,1279.5 1432.4,1285.1 1438.0,1286.5 1440.7,1294.7 1444.0,1295.9"/>
<path d="M1731.6,1398.2 1733.2,1410.9 1811.1,1396.4 1887.1,1380.9 1885.7,1380.6 1891.5,1384.1 1896.1,1389.9 1903.0,1399.1 1914.5,1405.5"/>
<path d="M1914.5,1405.5 1911.1,1417.5 1906.5,1426.7 1909.9,1432.5 1907.6,1438.2 1908.8,1444.0 1916.8,1452.1 1929.5,1463.6 1921.4,1469.4 1914.5,1477.4 1908.8,1483.2 1904.1,1486.2"/>
<path d="M1904.1,1486.2 1900.6,1484.4 1897.4,1486.9 1896.1,1492.4"/>
<path d="M1762.9,1518.7 1829.7,1505.8 1896.1,1492.4"/>
<path d="M1716.4,1482.2 1724.9,1524.2 1762.9,1518.7"/>
<path d="M1923.7,1222.8 1922.6,1229.7 1926.0,1234.3 1926.0,1245.9 1931.1,1250.5 1930.2,1264.3 1933.4,1273.5 1937.6,1282.7 1935.7,1287.3 1938.7,1290.8 1942.2,1289.6 1945.6,1298.8 1950.2,1326.5"/>
<path d="M1950.2,1326.5 1950.9,1362.2"/>
<path d="M1950.9,1362.2 1958.3,1396.8 1961.1,1402.5 1956.5,1410.1"/>
<path d="M1914.5,1405.5 1949.1,1416.4 1949.5,1429.0"/>
<path d="M1896.1,1492.4 1911.1,1550.0 1935.3,1545.4"/>
<path d="M1983.2,1208.5 1985.9,1213.6 1983.6,1220.5 1987.8,1228.6 1985.9,1235.5 1981.3,1240.1 1975.6,1243.5 1974.4,1248.2 1977.2,1255.1 1976.3,1264.3 1974.4,1271.2 1972.1,1289.6 1975.6,1301.2 1974.0,1312.7 1976.3,1321.4"/>
<path d="M1976.3,1321.4 1950.2,1326.5"/>
<path d="M1995.2,1195.2 2011.3,1245.9 2022.8,1280.4 2030.9,1287.3 2035.5,1291.9"/>
<path d="M2033.9,1300.0 2029.7,1302.3 2020.5,1310.4 1976.3,1321.4"/>
<path d="M2011.3,1350.2 2024.0,1347.2 2027.9,1358.1 2033.2,1361.1 2035.5,1366.8"/>
<path d="M1950.9,1362.2 1975.6,1357.6 1976.3,1359.4 1979.0,1356.5 2011.3,1350.2"/>
<path d="M2011.3,1350.2 2019.4,1381.8"/>
<path d="M1762.9,1518.7 1766.4,1542.2 1774.4,1535.3 1777.9,1529.5 1785.9,1526.0 1788.2,1521.4 1797.5,1519.1 1805.5,1513.4 1811.3,1511.1 1815.9,1514.1 1821.7,1513.4 1825.1,1518.0 1827.4,1521.4 1829.3,1527.2 1827.4,1534.1"/>
<path d="M1827.4,1534.1 1806.7,1523.7 1803.2,1539.9 1797.5,1551.4 1792.9,1558.3 1787.1,1557.1 1781.3,1577.9 1774.4,1576.7 1767.5,1573.3 1764.1,1579.0 1762.9,1588.2 1758.3,1597.5 1751.4,1615.9 1749.1,1621.7 1751.4,1627.4 1744.5,1634.3 1742.2,1630.9 1730.6,1635.5 1728.3,1641.2 1718.0,1647.0 1712.2,1644.7 1704.1,1650.5 1696.1,1648.2 1690.3,1642.4 1685.3,1640.0"/>
<path d="M1900.0,1585.9 1899.5,1580.8 1912.2,1577.9 1916.8,1575.6 1923.7,1572.2 1932.3,1569.8"/>
<path d="M1827.4,1534.1 1829.2,1524.4 1833.8,1526.1 1839.0,1530.7 1840.7,1534.1 1850.0,1537.0 1854.6,1536.5 1858.0,1537.6 1861.5,1543.9 1858.0,1549.1 1854.0,1550.9 1855.7,1554.9 1853.4,1560.6 1854.0,1565.8 1856.9,1567.6 1862.6,1564.1 1868.4,1569.9 1875.3,1571.0 1882.2,1573.3 1888.0,1576.8 1894.9,1577.9 1900.0,1585.9"/>
<path d="M1704.8,1681.5 1811.3,1666.6 1920.7,1644.7"/>
<path d="M1660.6,1766.1 1672.8,1761.1 1688.9,1751.8 1739.6,1746.8 1741.9,1750.7 1744.2,1748.4 1752.3,1755.3 1752.3,1761.1 1796.1,1754.6 1850.2,1791.0"/>
<path d="M1614.5,1770.3 1660.6,1766.1"/>
<path d="M1660.6,1766.1 1653.9,1778.3 1657.8,1784.1 1665.9,1788.7 1672.8,1789.9 1682.0,1801.4 1688.9,1810.6 1698.2,1817.5 1707.4,1826.7 1718.9,1835.9 1724.7,1842.9 1737.3,1850.9 1744.2,1863.6 1747.7,1870.5 1753.5,1875.1 1761.5,1891.2 1771.9,1891.2"/>
<path d="M1609.4,1966.1 1617.5,1979.3 1727.0,1973.0 1729.3,1981.1 1735.0,1980.0 1735.0,1969.6 1732.7,1962.7 1737.3,1958.1 1746.5,1961.5 1758.1,1960.4"/>
</g>
</g>
<path d="M417.1,2177.7 401.3,2167.6 385.5,2169.0 365.3,2160.4 345.1,2156.1 340.8,2147.4 327.9,2143.1 325.0,2137.4 317.8,2133.0 307.7,2137.4 296.2,2137.4 278.9,2144.6 267.4,2153.2 255.9,2161.8 244.3,2163.3 238.6,2160.4 232.8,2167.6 235.7,2176.2 241.5,2184.9 244.3,2199.3 258.7,2206.5 255.9,2215.1 247.2,2222.3 235.7,2216.6 238.6,2209.4 221.3,2207.9 198.2,2212.2 206.9,2222.3 204.0,2236.7 215.5,2245.4 232.8,2251.1 250.1,2249.7 245.8,2262.6 244.3,2271.3 232.8,2274.2 219.9,2277.1 217.0,2272.7 206.9,2274.2 195.4,2282.8 183.8,2294.3 185.3,2305.9 189.6,2311.6 183.8,2320.3 190.5,2335.2 199.1,2339.6 208.6,2338.7 209.5,2349.1 206.0,2350.8 206.0,2362.9 201.7,2365.5 211.2,2366.3 223.3,2365.5 228.5,2369.8 231.1,2380.2 235.4,2379.3 236.3,2373.2 239.7,2377.6 252.7,2376.7 245.8,2385.3 240.6,2397.4 226.8,2408.7 214.7,2413.0 204.3,2417.3 190.5,2419.0 176.6,2426.8 164.6,2428.5 152.5,2428.5 146.4,2432.0 145.5,2436.3 155.9,2436.3 166.3,2438.1 166.3,2431.1 176.6,2433.7 187.0,2430.3 197.4,2423.4 211.2,2428.5 226.8,2426.8 228.5,2419.9 240.6,2414.7 252.7,2413.0 254.4,2407.8 263.1,2404.4 271.7,2397.4 275.1,2399.2 283.8,2392.3 290.7,2383.6 283.8,2376.7 287.2,2371.5 295.9,2368.1 304.5,2359.4 311.4,2349.1 318.4,2343.0 325.3,2340.7 331.3,2345.6 321.8,2346.5 314.9,2352.5 309.7,2366.3 312.3,2371.5 306.3,2378.4 311.4,2381.0 320.1,2376.7 330.4,2369.8 346.0,2368.1 347.7,2374.1 356.4,2366.3 352.9,2359.4 348.6,2352.5 346.9,2349.9 356.4,2351.6 359.8,2349.9 363.3,2356.0 366.7,2357.7 359.8,2361.2 371.9,2362.9 385.5,2369.2 402.7,2370.7 417.1,2375.0 428.7,2379.3 434.4,2386.5 448.8,2390.8 457.5,2400.9 463.2,2412.4 471.9,2426.8 486.3,2444.1 497.8,2458.5 512.2,2471.5 520.8,2470.0 535.2,2467.1 541.0,2458.5 539.6,2441.2 523.7,2432.6 512.2,2421.1 500.7,2406.7 489.1,2392.3 477.6,2377.9 469.0,2375.0 460.3,2383.6 445.9,2380.7 434.4,2364.9 417.1,2366.3Z" fill="#c54b68" />
<g clip-path="url(#cWA)"><path d="M233.4,1115.9 236.4,1109.0 238.7,1097.5 241.0,1083.7 242.2,1072.2 241.7,1056.0 239.4,1037.6 239.9,1023.8 243.3,1014.1" fill="none" stroke="#d98ae0" stroke-width="70" stroke-opacity="1.0" stroke-linejoin="round" stroke-linecap="round" filter="url(#grainA)"/></g>
<g clip-path="url(#cOR)"><path d="M233.4,1115.9 230.6,1132.1 228.3,1145.9 219.1,1173.5 207.6,1201.2 196.1,1226.5 180.0,1256.5 169.6,1269.2 168.4,1280.0 170.3,1280.0 166.4,1291.5 165.7,1305.3 167.5,1312.9" fill="none" stroke="#d98ae0" stroke-width="70" stroke-opacity="1.0" stroke-linejoin="round" stroke-linecap="round" filter="url(#grainA)"/></g>
<g clip-path="url(#cCA)"><path d="M167.5,1312.9 165.7,1335.3 157.6,1357.2 156.5,1360.6 147.2,1372.2 139.2,1381.4 138.0,1391.8 149.5,1415.9 149.1,1429.8 146.1,1439.0 143.1,1459.7 151.8,1480.5 158.8,1495.4 158.8,1510.4 169.1,1521.9 169.1,1531.2 173.7,1535.8 166.8,1547.3 166.8,1556.5 173.7,1568.0 181.8,1572.6 172.6,1570.4 182.5,1573.8 182.5,1580.7 174.9,1586.5 173.8,1601.5 181.8,1615.3 185.3,1629.1 194.5,1649.9 203.7,1670.6 200.3,1684.4 199.1,1697.1" fill="none" stroke="#e27aa8" stroke-width="85" stroke-opacity="1.0" stroke-linejoin="round" stroke-linecap="round" filter="url(#grainA)"/></g>
<g clip-path="url(#cTX)"><path d="M1108.0,2228.3 1103.7,2205.3 1097.9,2182.3 1100.8,2165.0 1110.9,2144.8 1125.3,2127.5 1139.7,2117.5 1157.0,2108.8 1182.9,2095.9 1203.1,2078.6 1220.3,2067.1 1248.0,2054.8" fill="none" stroke="#a03c78" stroke-width="130" stroke-opacity="1.0" stroke-linejoin="round" stroke-linecap="round" filter="url(#grainA)"/></g>
<g clip-path="url(#cLA)"><path d="M1248.0,2066.8 1260.6,2062.9 1276.8,2062.9 1290.6,2066.4 1304.4,2071.0 1315.9,2071.0 1322.9,2065.2 1320.6,2061.8 1329.8,2059.5 1339.0,2061.8 1341.3,2066.4 1345.9,2071.0 1355.1,2074.4 1358.6,2077.9 1354.0,2082.5 1359.7,2084.8 1368.9,2086.0 1375.9,2091.7 1382.8,2089.4 1387.4,2083.7 1396.6,2082.5 1397.7,2090.6 1408.1,2087.1 1415.0,2077.9 1421.9,2077.9 1430.0,2082.5 1440.4,2087.1 1447.3,2088.3 1450.7,2084.8 1447.3,2077.9 1435.8,2072.1 1427.7,2068.7 1424.2,2061.8 1431.2,2059.5 1433.5,2053.7 1438.1,2049.1 1433.5,2044.5 1432.3,2039.9 1427.7,2041.0 1425.4,2050.2 1419.6,2047.9 1417.3,2043.3 1424.2,2037.6 1421.9,2027.2" fill="none" stroke="#c43a48" stroke-width="95" stroke-opacity="1.0" stroke-linejoin="round" stroke-linecap="round" filter="url(#grainA)"/></g>
<g clip-path="url(#cFL)"><path d="M1721.9,2059.4 1724.8,2073.8 1719.1,2088.2 1719.1,2102.6 1727.7,2119.9 1739.2,2134.3 1750.7,2151.6 1759.4,2164.6 1770.9,2168.9 1779.5,2186.2 1785.3,2191.9 1796.8,2191.9 1808.3,2206.3 1811.2,2219.3 1819.9,2220.7 1831.4,2217.9 1842.9,2209.2 1850.1,2194.8 1850.1,2180.4 1847.2,2151.6 1845.8,2134.3 1834.3,2114.2" fill="none" stroke="#a63c70" stroke-width="130" stroke-opacity="1.0" stroke-linejoin="round" stroke-linecap="round" filter="url(#grainA)"/></g>
<g clip-path="url(#cAK)"><path d="M232.8,2167.6 209.8,2219.4 195.4,2288.6 195.4,2340.4" fill="none" stroke="#e27aa8" stroke-width="170" stroke-opacity="1.0" stroke-linejoin="round" stroke-linecap="round" filter="url(#grainA)"/></g>
<g clip-path="url(#cAK)"><path d="M420.0,2179.1 420.0,2369.2 477.6,2398.0 535.2,2464.3" fill="none" stroke="#9e3a66" stroke-width="130" stroke-opacity="1.0" stroke-linejoin="round" stroke-linecap="round" filter="url(#grainA)"/></g>
<path d="M270.1,2411.3 278.7,2403.6 287.4,2402.7 297.7,2404.4 298.6,2409.6 292.6,2414.8 283.9,2420.0 277.0,2424.3 271.8,2420.0Z" fill="#c54b68" />
<path d="M287.4,2397.5 296.0,2390.6 302.1,2394.1 302.1,2399.2 294.3,2401.8Z" fill="#c54b68" />
<path d="M86.9,2445.0 97.3,2438.1 105.9,2438.1 104.2,2442.4 95.6,2445.9Z" fill="#c54b68" />
<path d="M105.9,2442.4 116.3,2435.5 123.2,2436.4 128.4,2440.7 119.7,2445.9 107.6,2445.0Z" fill="#c54b68" />
<path d="M129.3,2434.7 133.6,2434.3 134.4,2438.1 130.1,2438.1Z" fill="#c54b68" />
<path d="M135.3,2439.0 143.1,2439.9 143.6,2442.4 136.2,2442.1Z" fill="#c54b68" />
<path d="M161.2,2318.9 168.1,2316.8 175.9,2317.2 178.8,2323.2 176.8,2328.4 171.6,2329.3 165.5,2324.9Z" fill="#c54b68" />
<path d="M114.6,2286.9 117.2,2286.0 121.5,2294.7 119.7,2295.6Z" fill="#c54b68" />
<path d="M264.9,2427.8 270.1,2425.2 276.1,2428.3 266.6,2429.5Z" fill="#c54b68" />
<path d="M251.1,2437.6 254.5,2436.4 256.3,2439.9 253.7,2441.6Z" fill="#c54b68" />
<path d="M194.1,2433.8 201.0,2432.1 204.4,2435.5 199.2,2439.9Z" fill="#c54b68" />
<path d="M152.2,2239.6 156.5,2235.3 166.6,2243.9 175.2,2252.6 175.2,2257.5 166.6,2254.0 159.4,2246.8Z" fill="#c54b68" />
<path d="M474.7,2386.5 477.6,2403.8 483.4,2418.2 492.0,2432.6 500.7,2447.0 509.3,2459.9" fill="none" stroke="#0b0b0b" stroke-width="2" stroke-linejoin="round" stroke-linecap="round"/>
<path d="M463.2,2405.2 474.7,2402.3 479.1,2412.4" fill="none" stroke="#0b0b0b" stroke-width="2" stroke-linejoin="round" stroke-linecap="round"/>
<path d="M486.3,2423.9 497.8,2426.8 505.0,2438.3" fill="none" stroke="#0b0b0b" stroke-width="2" stroke-linejoin="round" stroke-linecap="round"/>
<path d="M492.0,2441.2 503.5,2444.1 516.5,2455.6 520.8,2465.7" fill="none" stroke="#0b0b0b" stroke-width="2" stroke-linejoin="round" stroke-linecap="round"/>
<path d="M631.3,2461.5 634.1,2457.8 637.8,2454.1 640.9,2453.2 640.9,2458.7 636.9,2460.6 633.2,2464.2Z" fill="#8d52cc" />
<path d="M652.2,2450.4 657.1,2445.4 662.7,2443.0 672.8,2443.0 675.0,2447.6 673.7,2455.9 668.2,2460.9 661.8,2459.6 655.3,2455.9Z" fill="#8d52cc" />
<path d="M720.2,2476.2 729.0,2473.8 740.1,2479.9 744.7,2480.8 746.5,2486.4 747.8,2489.7 741.0,2491.5 736.4,2489.1 727.2,2489.7 722.6,2481.8Z" fill="#8d52cc" />
<path d="M763.1,2498.3 765.9,2493.4 777.0,2495.2 790.8,2495.2 789.5,2499.3 784.3,2502.0 775.1,2499.6Z" fill="#8d52cc" />
<path d="M774.7,2508.5 783.4,2507.6 785.8,2511.2 785.3,2515.5 778.4,2516.8Z" fill="#8d52cc" />
<path d="M790.8,2506.6 792.6,2502.9 797.2,2502.6 800.9,2508.5 806.5,2505.7 812.0,2506.6 822.1,2513.1 822.1,2519.5 810.1,2524.7 802.8,2523.6 800.9,2516.8 793.5,2512.2Z" fill="#8d52cc" />
<path d="M789.9,2526.5 792.6,2524.1 798.2,2523.2 799.1,2527.3Z" fill="#8d52cc" />
<path d="M826.4,2539.4 831.3,2538.9 841.5,2546.3 850.7,2547.2 861.8,2553.6 864.5,2557.3 864.5,2562.9 869.1,2564.1 869.5,2568.4 878.0,2573.9 869.1,2583.1 861.8,2586.8 854.4,2588.1 845.2,2594.2 837.8,2604.3 826.4,2597.0 826.7,2586.8 824.0,2574.8 819.0,2564.7 829.5,2551.8Z" fill="#8d52cc" />
<path d="M1377.2,1169.2 1401.4,1153.0 1403.7,1154.2 1396.8,1162.3 1380.6,1171.9Z" fill="#c54b68" />
<path d="M1509.2,1260.2 1511.2,1258.5 1513.3,1261.6 1512.9,1267.1 1510.6,1268.5 1508.9,1265.0Z" fill="#c54b68" />
<path d="M1491.9,1292.0 1495.3,1290.6 1497.4,1294.7 1494.0,1298.2Z" fill="#c54b68" />
<path d="M1536.8,1244.7 1548.6,1248.0 1547.2,1250.2 1538.9,1248.8Z" fill="#c54b68" />
<path d="M1540.3,1252.2 1549.3,1255.6 1548.6,1257.1 1541.7,1254.7Z" fill="#c54b68" />
<path d="M1942.2,1439.4 1945.6,1431.3 1954.8,1421.0 1967.5,1413.4 1979.0,1408.3 1992.9,1403.7 1999.8,1396.8 2011.3,1391.0 2021.7,1385.7 2022.8,1388.7 2014.7,1395.6 2019.4,1396.8 2011.3,1403.7 1999.8,1408.3 1988.2,1415.2 1974.4,1424.4 1958.3,1433.6 1946.8,1441.7Z" fill="#8d52cc" />
<path d="M1960.6,1419.8 1974.4,1414.1 1988.2,1408.3 1999.8,1404.8" fill="none" stroke="#0b0b0b" stroke-width="4" stroke-linejoin="round" stroke-linecap="round"/>
<path d="M2026.3,1385.3 2029.7,1384.8 2029.3,1388.7 2027.0,1388.7Z" fill="#246bfd" />
<path d="M2050.5,1369.1 2058.5,1366.8 2064.3,1369.1 2057.4,1371.9Z" fill="#8d52cc" />
<path d="M2071.2,1365.7 2080.4,1363.4 2083.9,1366.8 2077.0,1369.1Z" fill="#8d52cc" />
<path d="M208.3,1725.4 215.3,1725.9 217.6,1731.7 210.6,1731.0Z" fill="#c54b68" />
<path d="M219.9,1725.4 229.1,1729.4 236.0,1730.0 234.8,1732.8 224.5,1732.4Z" fill="#c54b68" />
<path d="M263.6,1766.2 268.2,1767.4 274.7,1776.6 270.6,1777.7Z" fill="#c54b68" />
<path d="M259.0,1788.1 262.5,1790.4 267.1,1799.6 263.6,1798.5Z" fill="#c54b68" />
<path d="M1785.3,2253.0 1799.7,2246.1 1817.0,2239.5 1832.8,2227.9 1843.5,2215.0 1850.1,2200.0 1852.1,2204.9 1845.8,2219.3 1834.8,2233.7 1819.9,2243.2 1802.6,2250.1 1789.6,2255.3Z" fill="#c54b68" />
<path d="M1769.5,2255.3 1778.1,2252.4 1779.5,2254.7 1771.5,2257.0Z" fill="#c54b68" />
<path d="M292.9,1014.6 299.8,1012.3 309.0,1014.6 314.1,1020.3 314.7,1026.1 311.3,1029.5 305.5,1028.4 302.1,1023.8 297.5,1024.9 294.0,1021.5Z" fill="#0b0b0b" />
<path d="M309.0,1034.1 311.3,1042.2 309.0,1049.1 313.6,1053.7 309.0,1058.3 302.1,1060.6 299.8,1067.6 292.9,1071.0 285.9,1072.2 279.0,1075.6" fill="none" stroke="#0b0b0b" stroke-width="3.2" stroke-linejoin="round" stroke-linecap="round"/>
<path d="M302.1,1060.6 304.4,1072.2 302.1,1081.4 295.2,1086.0 288.2,1090.6" fill="none" stroke="#0b0b0b" stroke-width="2.6" stroke-linejoin="round" stroke-linecap="round"/>
<path d="M295.2,1086.0 288.2,1087.1 281.3,1088.3" fill="none" stroke="#0b0b0b" stroke-width="2" stroke-linejoin="round" stroke-linecap="round"/>
<path d="M292.9,1042.2 302.1,1044.5 309.0,1049.1" fill="none" stroke="#0b0b0b" stroke-width="2" stroke-linejoin="round" stroke-linecap="round"/>
<path d="M294.0,1014.6 299.8,1013.4 302.1,1018.0 297.5,1021.5 294.0,1019.2Z" fill="#8d52cc" />
<path d="M304.4,1016.9 311.3,1015.7 313.1,1021.5 309.0,1026.1 304.8,1022.6Z" fill="#8d52cc" />
<path d="M300.9,999.6 303.9,999.6 303.9,1003.0 300.9,1003.0Z" fill="#8d52cc" />
<path d="M238.7,1084.8 244.5,1082.5 249.1,1087.1 243.3,1090.1 239.9,1095.2Z" fill="#0b0b0b" />
<path d="M239.9,1099.8 246.8,1097.5 242.2,1109.0 237.6,1111.3Z" fill="#0b0b0b" />
<path d="M176.0,1510.4 179.5,1510.0 182.5,1516.2 178.8,1520.8 180.0,1528.8 181.1,1542.2 174.2,1536.2 175.6,1524.7 173.3,1519.6Z" fill="#0b0b0b" />
<path d="M1890.3,1501.9 1891.4,1506.5 1888.5,1511.7 1885.7,1518.0 1884.5,1522.6 1888.0,1527.2 1886.2,1531.8 1889.1,1535.3 1887.4,1541.1 1890.3,1545.7 1889.1,1551.4 1892.0,1554.9 1896.0,1558.3 1900.6,1560.6 1905.3,1565.3 1908.7,1571.0 1912.2,1576.8 1915.6,1580.2 1913.5,1583.7 1911.6,1591.8 1912.2,1601.0 1914.5,1610.2 1917.9,1618.2 1916.8,1625.2 1911.0,1626.3 1907.6,1622.9 1904.7,1617.1 1903.5,1607.9 1900.1,1599.8 1898.3,1590.6 1898.6,1581.4 1894.9,1572.2 1891.4,1565.3 1887.4,1558.3 1882.2,1551.4 1879.9,1544.5 1880.1,1535.3 1878.8,1526.1 1876.5,1522.6 1880.5,1516.9 1884.5,1512.3 1888.0,1507.6 1889.1,1503.0Z" fill="#0b0b0b" />
<path d="M1874.7,1584.3 1884.5,1591.8 1891.4,1595.2 1899.5,1596.9" fill="none" stroke="#0b0b0b" stroke-width="1.6" stroke-linejoin="round" stroke-linecap="round"/>
<path d="M1888.0,1610.2 1894.9,1614.2 1902.9,1612.5" fill="none" stroke="#0b0b0b" stroke-width="1.8" stroke-linejoin="round" stroke-linecap="round"/>
<path d="M1879.9,1618.2 1889.1,1618.8 1893.7,1624.0 1899.5,1628.6 1905.3,1626.3" fill="none" stroke="#0b0b0b" stroke-width="2.6" stroke-linejoin="round" stroke-linecap="round"/>
<path d="M1894.9,1577.9 1889.1,1575.6 1884.5,1573.9" fill="none" stroke="#0b0b0b" stroke-width="2" stroke-linejoin="round" stroke-linecap="round"/>
<path d="M1921.4,1595.2 1918.5,1606.7 1917.4,1617.1" fill="none" stroke="#0b0b0b" stroke-width="1.4" stroke-linejoin="round" stroke-linecap="round"/>
<path d="M1856.9,1536.5 1862.6,1539.0 1860.6,1543.1 1855.1,1540.5Z" fill="#2d3233" />
<path d="M1922.8,1644.8 1931.4,1655.7 1938.3,1666.1 1945.3,1675.3 1949.9,1683.4 1951.9,1691.4 1952.2,1702.4 1945.3,1706.4 1939.5,1711.0 1933.7,1715.6 1929.1,1722.5 1923.4,1727.1" fill="none" stroke="#8d52cc" stroke-width="1.6" stroke-linejoin="round" stroke-linecap="round"/>
<path d="M1392.0,2022.1 1398.9,2017.5 1408.1,2019.8 1415.0,2024.4 1410.4,2029.0 1401.2,2031.3 1393.1,2027.9Z" fill="#0b0b0b" />
<path d="M1385.1,2022.1 1389.7,2018.7 1390.8,2023.3 1386.2,2026.3Z" fill="#0b0b0b" />
<path d="M1417.3,2031.3 1424.2,2027.9 1425.4,2035.9 1420.8,2037.1Z" fill="#0b0b0b" />
<path d="M1409.3,2061.3 1416.2,2059.0 1417.3,2064.7 1411.6,2069.4Z" fill="#0b0b0b" />
<path d="M1321.7,2050.9 1329.8,2047.9 1340.1,2050.2 1341.3,2055.5 1332.1,2054.4 1325.2,2054.8Z" fill="#0b0b0b" />
<path d="M1201.9,2059.0 1208.8,2052.1 1212.3,2059.0 1216.9,2062.4 1210.0,2069.4 1203.0,2063.6Z" fill="#0b0b0b" />
<path d="M1131.6,2103.9 1135.4,2103.1 1140.3,2107.9 1146.9,2103.1 1149.8,2105.1 1148.3,2110.8 1142.0,2116.0 1136.8,2111.7Z" fill="#0b0b0b" />
<path d="M1099.4,2145.4 1103.7,2142.5 1108.0,2146.3 1103.7,2150.0Z" fill="#0b0b0b" />
<path d="M1124.7,2120.3 1128.2,2118.3 1131.1,2121.8 1126.7,2124.1Z" fill="#0b0b0b" />
<path d="M1106.0,2226.9 1100.0,2202.4 1095.1,2183.7 1097.9,2166.4 1108.0,2146.3 1121.0,2130.4 1136.8,2120.3" fill="none" stroke="#0b0b0b" stroke-width="2" stroke-linejoin="round" stroke-linecap="round"/>
<path d="M1724.2,2099.8 1730.6,2099.2 1732.0,2104.1 1736.9,2102.6 1733.5,2111.3 1729.1,2117.1 1727.1,2109.9Z" fill="#0b0b0b" />
<path d="M1755.9,2145.9 1759.4,2145.3 1757.9,2154.5 1761.7,2163.1 1757.1,2158.8 1753.6,2151.6Z" fill="#0b0b0b" />
<path d="M1845.2,2194.8 1849.5,2189.1 1851.0,2197.7 1847.2,2203.5Z" fill="#0b0b0b" />
<path d="M2075.8,1211.3 2080.4,1209.0 2079.3,1215.9 2082.7,1219.4 2080.4,1227.4 2077.0,1225.1 2078.1,1219.4Z" fill="#0b0b0b" />
<path d="M2087.3,1214.7 2090.8,1212.4 2091.5,1219.4 2088.5,1221.7Z" fill="#0b0b0b" />
<path d="M2096.5,1209.0 2100.0,1205.5 2101.2,1211.3 2098.4,1214.1Z" fill="#0b0b0b" />
<path d="M1341.5,1210.6 1336.9,1217.6 1332.3,1224.5 1327.6,1232.5" fill="none" stroke="#0b0b0b" stroke-width="3" stroke-linejoin="round" stroke-linecap="round"/>
<g id="leaders">
<path d="M199.5,966.8 L258.0,1003.7 Q263.6,1007.2 263.6,1019.8 L263.6,1086.6" fill="none" stroke="#f3eedd" stroke-width="2.2" stroke-linejoin="round" stroke-linecap="round"/><circle cx="263.6" cy="1086.6" r="6.2" fill="#f3eedd"/>
<path d="M365.4,914.7 L324.9,943.8 Q319.3,947.8 319.3,957.6 L319.3,1256.2" fill="none" stroke="#f3eedd" stroke-width="2.2" stroke-linejoin="round" stroke-linecap="round"/><circle cx="319.3" cy="1256.2" r="6.2" fill="#f3eedd"/>
<path d="M875.1,1023.5 L875.1,1268.6 Q875.1,1275.2 884.3,1284.8 L942.8,1345.6" fill="none" stroke="#f3eedd" stroke-width="2.2" stroke-linejoin="round" stroke-linecap="round"/><circle cx="942.8" cy="1345.6" r="6.2" fill="#f3eedd"/>
<path d="M1134.5,946.0 L1340.5,1151.0 Q1347.0,1157.5 1347.0,1167.0 L1347.0,1260.8" fill="none" stroke="#f3eedd" stroke-width="2.2" stroke-linejoin="round" stroke-linecap="round"/><circle cx="1347.0" cy="1260.8" r="6.2" fill="#f3eedd"/>
<path d="M1335.0,919.4 L1361.3,943.8 Q1366.8,948.9 1366.8,960.0 L1369.0,1542.8" fill="none" stroke="#f3eedd" stroke-width="2.2" stroke-linejoin="round" stroke-linecap="round"/><circle cx="1369.0" cy="1542.8" r="6.2" fill="#f3eedd"/>
<path d="M1515.2,908.3 L1542.8,932.3 Q1549.8,938.4 1549.8,946.0 L1551.1,1382.5" fill="none" stroke="#f3eedd" stroke-width="2.2" stroke-linejoin="round" stroke-linecap="round"/><circle cx="1551.1" cy="1382.5" r="6.2" fill="#f3eedd"/>
<path d="M1509.2,1076.5 L1522.1,1089.0 Q1526.7,1093.5 1526.7,1102.8 L1526.7,1566.8" fill="none" stroke="#f3eedd" stroke-width="2.2" stroke-linejoin="round" stroke-linecap="round"/><circle cx="1526.7" cy="1566.8" r="6.2" fill="#f3eedd"/>
<path d="M1707.8,1056.7 L1881.5,1194.9 Q1890.8,1202.3 1890.8,1213.3 L1890.8,1343.3" fill="none" stroke="#f3eedd" stroke-width="2.2" stroke-linejoin="round" stroke-linecap="round"/><circle cx="1890.8" cy="1343.3" r="6.2" fill="#f3eedd"/>
<path d="M1766.3,1154.4 L1860.8,1227.2 Q1870.0,1234.3 1870.0,1245.6 L1870.0,1406.9 Q1870.0,1416.8 1877.0,1425.3 L1925.3,1483.8" fill="none" stroke="#f3eedd" stroke-width="2.2" stroke-linejoin="round" stroke-linecap="round"/><circle cx="1925.3" cy="1483.8" r="6.2" fill="#f3eedd"/>
<path d="M1796.3,1293.0 L1817.0,1307.8 Q1823.0,1312.1 1823.0,1321.6 L1823.0,1451.6" fill="none" stroke="#f3eedd" stroke-width="2.2" stroke-linejoin="round" stroke-linecap="round"/><circle cx="1823.0" cy="1451.6" r="6.2" fill="#f3eedd"/>
<path d="M1900.9,1031.3 L1950.7,1070.5 Q1958.5,1076.6 1958.5,1086.6 L1958.5,1273.2" fill="none" stroke="#f3eedd" stroke-width="2.2" stroke-linejoin="round" stroke-linecap="round"/><circle cx="1958.5" cy="1273.2" r="6.2" fill="#f3eedd"/>
<path d="M1901.0,853.0 L1984.0,915.0 Q1992.0,921.0 1992.0,932.0 L1992.0,1269.0" fill="none" stroke="#f3eedd" stroke-width="2.2" stroke-linejoin="round" stroke-linecap="round"/><circle cx="1992.0" cy="1269.0" r="6.2" fill="#f3eedd"/>
<path d="M2111.0,757.6 L2024.0,800.0 Q2012.5,805.6 2012.5,820.0 L2012.5,1345.0 Q2012.5,1353.7 2006.0,1358.0 L1989.9,1368.7" fill="none" stroke="#f3eedd" stroke-width="2.2" stroke-linejoin="round" stroke-linecap="round"/><circle cx="1989.9" cy="1368.7" r="6.2" fill="#f3eedd"/>
<path d="M2100.5,910.0 L2063.6,932.3 Q2057.6,935.9 2057.6,946.0 L2057.6,1310.0 Q2057.6,1317.4 2050.0,1325.0 L2035.0,1340.0" fill="none" stroke="#f3eedd" stroke-width="2.2" stroke-linejoin="round" stroke-linecap="round"/><circle cx="2035.0" cy="1340.0" r="6.2" fill="#f3eedd"/>
<path d="M2106.5,1060.4 L2086.6,1075.1 Q2082.0,1078.5 2082.0,1089.0 L2082.0,1181.1" fill="none" stroke="#f3eedd" stroke-width="2.2" stroke-linejoin="round" stroke-linecap="round"/><circle cx="2082.0" cy="1181.1" r="6.2" fill="#f3eedd"/>
<path d="M2105.0,1281.1 L2096.0,1282.5 Q2091.1,1283.3 2089.0,1291.7 L2072.8,1356.2 Q2069.6,1369.1 2059.0,1369.1 L2029.0,1369.1" fill="none" stroke="#f3eedd" stroke-width="2.2" stroke-linejoin="round" stroke-linecap="round"/><circle cx="2029.0" cy="1369.1" r="6.2" fill="#f3eedd"/>
<path d="M2091.2,1455.3 L2068.2,1455.3 Q2061.0,1455.3 2054.4,1464.5 L2012.9,1522.1 Q2005.3,1532.7 1996.8,1532.7 L1922.1,1532.7" fill="none" stroke="#f3eedd" stroke-width="2.2" stroke-linejoin="round" stroke-linecap="round"/><circle cx="1922.1" cy="1532.7" r="6.2" fill="#f3eedd"/>
<path d="M1880.2,1558.1 L1999.1,1558.1 Q2008.5,1558.1 2015.2,1568.2 L2038.2,1602.8" fill="none" stroke="#f3eedd" stroke-width="2.2" stroke-linejoin="round" stroke-linecap="round"/><circle cx="1880.2" cy="1558.1" r="6.2" fill="#f3eedd"/>
<path d="M1747.0,1584.3 L1943.8,1768.7 Q1952.1,1776.5 1952.1,1784.8 L1952.1,1828.6" fill="none" stroke="#f3eedd" stroke-width="2.2" stroke-linejoin="round" stroke-linecap="round"/><circle cx="1747.0" cy="1584.3" r="6.2" fill="#f3eedd"/>
<path d="M1851.6,1643.3 L1994.5,1800.9 Q2002.8,1810.1 2017.5,1810.1 L2118.9,1810.1" fill="none" stroke="#f3eedd" stroke-width="2.2" stroke-linejoin="round" stroke-linecap="round"/><circle cx="1851.6" cy="1643.3" r="6.2" fill="#f3eedd"/>
<path d="M1800.9,1705.5 L1883.9,1775.6 Q1893.0,1783.3 1893.0,1794.0 L1892.1,2010.6 L1925.8,2048.8" fill="none" stroke="#f3eedd" stroke-width="2.2" stroke-linejoin="round" stroke-linecap="round"/><circle cx="1800.9" cy="1705.5" r="6.2" fill="#f3eedd"/>
<path d="M1787.1,1798.6 L1856.2,1865.4 Q1862.6,1871.6 1862.6,1884.0 L1862.6,2148.8 L1929.0,2222.6" fill="none" stroke="#f3eedd" stroke-width="2.2" stroke-linejoin="round" stroke-linecap="round"/><circle cx="1787.1" cy="1798.6" r="6.2" fill="#f3eedd"/>
<path d="M1694.9,1875.6 L1694.4,2291.7 L1791.2,2402.3" fill="none" stroke="#f3eedd" stroke-width="2.2" stroke-linejoin="round" stroke-linecap="round"/><circle cx="1694.9" cy="1875.6" r="6.2" fill="#f3eedd"/>
<path d="M1825.8,2151.1 L1825.8,2291.7 L1922.1,2400.0" fill="none" stroke="#f3eedd" stroke-width="2.2" stroke-linejoin="round" stroke-linecap="round"/><circle cx="1825.8" cy="2151.1" r="6.2" fill="#f3eedd"/>
<path d="M1523.5,1954.4 L1523.5,2139.6" fill="none" stroke="#f3eedd" stroke-width="2.2" stroke-linejoin="round" stroke-linecap="round"/><circle cx="1523.5" cy="1954.4" r="6.2" fill="#f3eedd"/>
<path d="M1382.9,1913.8 L1382.9,2139.6" fill="none" stroke="#f3eedd" stroke-width="2.2" stroke-linejoin="round" stroke-linecap="round"/><circle cx="1382.9" cy="1913.8" r="6.2" fill="#f3eedd"/>
<path d="M1452.1,1760.8 L1452.0,2277.9 L1493.5,2340.1" fill="none" stroke="#f3eedd" stroke-width="2.2" stroke-linejoin="round" stroke-linecap="round"/><circle cx="1452.1" cy="1760.8" r="6.2" fill="#f3eedd"/>
<path d="M1463.1,1685.7 L1434.6,1718.0 Q1426.3,1727.4 1426.3,1736.4 L1426.3,2277.9 L1368.2,2341.0" fill="none" stroke="#f3eedd" stroke-width="2.2" stroke-linejoin="round" stroke-linecap="round"/><circle cx="1463.1" cy="1685.7" r="6.2" fill="#f3eedd"/>
<path d="M1300.4,1934.6 L1222.1,1983.0 Q1214.3,1987.8 1214.3,1999.1 L1214.3,2264.1 L1195.4,2288.5" fill="none" stroke="#f3eedd" stroke-width="2.2" stroke-linejoin="round" stroke-linecap="round"/><circle cx="1300.4" cy="1934.6" r="6.2" fill="#f3eedd"/>
<path d="M735.0,2338.7 L734.1,2473.7" fill="none" stroke="#f3eedd" stroke-width="2.2" stroke-linejoin="round" stroke-linecap="round"/><circle cx="734.1" cy="2473.7" r="6.2" fill="#f3eedd"/>
<path d="M504.6,2052.1 L442.4,2052.1 Q431.9,2052.1 428.6,2061.3 L367.3,2230.0" fill="none" stroke="#f3eedd" stroke-width="2.2" stroke-linejoin="round" stroke-linecap="round"/><circle cx="367.3" cy="2230.0" r="6.2" fill="#f3eedd"/>
<path d="M218.0,1500.5 L147.5,1549.8 Q137.3,1556.9 137.3,1565.9 L137.3,1727.2" fill="none" stroke="#f3eedd" stroke-width="2.2" stroke-linejoin="round" stroke-linecap="round"/><circle cx="218.0" cy="1500.5" r="6.2" fill="#f3eedd"/>
</g>
<g id="labels">
<text transform="translate(67.77,919.0) scale(1.0042,1)" font-family="Liberation Sans, Arial, sans-serif" font-size="29" fill="#f3eedd" stroke="#0b0b0b" stroke-width="0.8" paint-order="fill stroke">WASHINGTON</text>
<text transform="translate(70.1,990.8) scale(0.7143,1)" font-family="Liberation Sans, Arial, sans-serif" font-size="72.5" font-weight="700" fill="#f3eedd" letter-spacing="3.3" filter="url(#fatN)">40.3</text>
<text transform="translate(373.12,919.0) scale(1.0075,1)" font-family="Liberation Sans, Arial, sans-serif" font-size="29" fill="#f3eedd" stroke="#0b0b0b" stroke-width="0.8" paint-order="fill stroke">OREGON</text>
<text transform="translate(376.2,990.8) scale(0.7010,1)" font-family="Liberation Sans, Arial, sans-serif" font-size="72.5" font-weight="700" fill="#f3eedd" letter-spacing="3.3" filter="url(#fatN)">38.5</text>
<text transform="translate(993.37,919.0) scale(0.9857,1)" font-family="Liberation Sans, Arial, sans-serif" font-size="29" fill="#f3eedd" stroke="#0b0b0b" stroke-width="0.8" paint-order="fill stroke">WISCONSIN</text>
<text transform="translate(995.3,990.8) scale(0.7207,1)" font-family="Liberation Sans, Arial, sans-serif" font-size="72.5" font-weight="700" fill="#f3eedd" letter-spacing="3.3" filter="url(#fatN)">34.9</text>
<text transform="translate(1207.96,919.0) scale(0.9873,1)" font-family="Liberation Sans, Arial, sans-serif" font-size="29" fill="#f3eedd" stroke="#0b0b0b" stroke-width="0.8" paint-order="fill stroke">ILLINOIS</text>
<text transform="translate(1212.8,990.8) scale(0.7292,1)" font-family="Liberation Sans, Arial, sans-serif" font-size="72.5" font-weight="700" fill="#f3eedd" letter-spacing="3.3" filter="url(#fatN)">45.0</text>
<text transform="translate(1382.45,858.0) scale(1.0303,1)" font-family="Liberation Sans, Arial, sans-serif" font-size="29" fill="#f3eedd" stroke="#0b0b0b" stroke-width="0.8" paint-order="fill stroke">MICHIGAN</text>
<text transform="translate(1387.1,929.8) scale(0.7176,1)" font-family="Liberation Sans, Arial, sans-serif" font-size="72.5" font-weight="700" fill="#f3eedd" letter-spacing="3.3" filter="url(#fatN)">45.3</text>
<text transform="translate(1638.54,858.0) scale(0.9902,1)" font-family="Liberation Sans, Arial, sans-serif" font-size="29" fill="#f3eedd" stroke="#0b0b0b" stroke-width="0.8" paint-order="fill stroke">NEW HAMPSHIRE</text>
<text transform="translate(1642.6,929.8) scale(0.5915,1)" font-family="Liberation Sans, Arial, sans-serif" font-size="72.5" font-weight="700" fill="#f3eedd" letter-spacing="3.3" filter="url(#fatN)">31.3</text>
<text transform="translate(2113.52,763.0) scale(1.0038,1)" font-family="Liberation Sans, Arial, sans-serif" font-size="29" fill="#f3eedd" stroke="#0b0b0b" stroke-width="0.8" paint-order="fill stroke">CONNECTICUT</text>
<text transform="translate(2116.7,834.8) scale(0.6919,1)" font-family="Liberation Sans, Arial, sans-serif" font-size="72.5" font-weight="700" fill="#f3eedd" letter-spacing="3.3" filter="url(#fatN)">38.2</text>
<text transform="translate(2112.65,919.0) scale(0.9898,1)" font-family="Liberation Sans, Arial, sans-serif" font-size="29" fill="#f3eedd" stroke="#0b0b0b" stroke-width="0.8" paint-order="fill stroke">MASSACHUSETTS</text>
<text transform="translate(2116.7,990.8) scale(0.6056,1)" font-family="Liberation Sans, Arial, sans-serif" font-size="72.5" font-weight="700" fill="#f3eedd" letter-spacing="3.3" filter="url(#fatN)">34.1</text>
<text transform="translate(1773.27,963.0) scale(0.9889,1)" font-family="Liberation Sans, Arial, sans-serif" font-size="29" fill="#f3eedd" stroke="#0b0b0b" stroke-width="0.8" paint-order="fill stroke">VERMONT</text>
<text transform="translate(1774.5,1034.8) scale(0.7111,1)" font-family="Liberation Sans, Arial, sans-serif" font-size="72.5" font-weight="700" fill="#f3eedd" letter-spacing="3.3" filter="url(#fatN)">24.3</text>
<text transform="translate(1387.23,1002.0) scale(1.0366,1)" font-family="Liberation Sans, Arial, sans-serif" font-size="29" fill="#f3eedd" stroke="#0b0b0b" stroke-width="0.8" paint-order="fill stroke">INDIANA</text>
<text transform="translate(1391.8,1073.8) scale(0.7207,1)" font-family="Liberation Sans, Arial, sans-serif" font-size="72.5" font-weight="700" fill="#f3eedd" letter-spacing="3.3" filter="url(#fatN)">34.9</text>
<text transform="translate(1576.47,1012.0) scale(0.9801,1)" font-family="Liberation Sans, Arial, sans-serif" font-size="29" fill="#f3eedd" stroke="#0b0b0b" stroke-width="0.8" paint-order="fill stroke">NEW YORK</text>
<text transform="translate(1580.9,1083.8) scale(0.6972,1)" font-family="Liberation Sans, Arial, sans-serif" font-size="72.5" font-weight="700" fill="#f3eedd" letter-spacing="3.3" filter="url(#fatN)">40.7</text>
<text transform="translate(2117.56,1063.0) scale(1.0270,1)" font-family="Liberation Sans, Arial, sans-serif" font-size="29" fill="#f3eedd" stroke="#0b0b0b" stroke-width="0.8" paint-order="fill stroke">MAINE</text>
<text transform="translate(2121.7,1134.8) scale(0.6906,1)" font-family="Liberation Sans, Arial, sans-serif" font-size="72.5" font-weight="700" fill="#f3eedd" letter-spacing="3.3" filter="url(#fatN)">32.3</text>
<text transform="translate(1576.51,1153.0) scale(0.9633,1)" font-family="Liberation Sans, Arial, sans-serif" font-size="29" fill="#f3eedd" stroke="#0b0b0b" stroke-width="0.8" paint-order="fill stroke">NEW JERSEY</text>
<text transform="translate(1581.0,1224.8) scale(0.7279,1)" font-family="Liberation Sans, Arial, sans-serif" font-size="72.5" font-weight="700" fill="#f3eedd" letter-spacing="3.3" filter="url(#fatN)">45.5</text>
<text transform="translate(1572.67,1286.0) scale(0.9796,1)" font-family="Liberation Sans, Arial, sans-serif" font-size="29" fill="#f3eedd" stroke="#0b0b0b" stroke-width="0.8" paint-order="fill stroke">PENNSYLVANIA</text>
<text transform="translate(1577.1,1357.8) scale(0.7005,1)" font-family="Liberation Sans, Arial, sans-serif" font-size="72.5" font-weight="700" fill="#f3eedd" letter-spacing="3.3" filter="url(#fatN)">45.7</text>
<text transform="translate(2117.93,1284.0) scale(0.9970,1)" font-family="Liberation Sans, Arial, sans-serif" font-size="29" fill="#f3eedd" stroke="#0b0b0b" stroke-width="0.8" paint-order="fill stroke">RHODE</text>
<text transform="translate(2117.62,1313.7) scale(1.0011,1)" font-family="Liberation Sans, Arial, sans-serif" font-size="29" fill="#f3eedd" stroke="#0b0b0b" stroke-width="0.8" paint-order="fill stroke">ISLAND</text>
<text transform="translate(2121.5,1379.1) scale(0.5924,1)" font-family="Liberation Sans, Arial, sans-serif" font-size="72.5" font-weight="700" fill="#f3eedd" letter-spacing="3.3" filter="url(#fatN)">28.1</text>
<text transform="translate(2111.10,1465.0) scale(0.9652,1)" font-family="Liberation Sans, Arial, sans-serif" font-size="29" fill="#f3eedd" stroke="#0b0b0b" stroke-width="0.8" paint-order="fill stroke">DELAWARE</text>
<text transform="translate(2115.6,1536.8) scale(0.7148,1)" font-family="Liberation Sans, Arial, sans-serif" font-size="72.5" font-weight="700" fill="#f3eedd" letter-spacing="3.3" filter="url(#fatN)">42.5</text>
<text transform="translate(2134.58,1823.0) scale(0.9700,1)" font-family="Liberation Sans, Arial, sans-serif" font-size="29" fill="#f3eedd" stroke="#0b0b0b" stroke-width="0.8" paint-order="fill stroke">VIRGINIA</text>
<text transform="translate(2136.8,1894.8) scale(0.6834,1)" font-family="Liberation Sans, Arial, sans-serif" font-size="72.5" font-weight="700" fill="#f3eedd" letter-spacing="3.3" filter="url(#fatN)">47.6</text>
<text transform="translate(1938.18,1863.0) scale(0.9376,1)" font-family="Liberation Sans, Arial, sans-serif" font-size="29" fill="#f3eedd" stroke="#0b0b0b" stroke-width="0.8" paint-order="fill stroke">WEST</text>
<text transform="translate(1938.18,1899.0) scale(0.9676,1)" font-family="Liberation Sans, Arial, sans-serif" font-size="29" fill="#f3eedd" stroke="#0b0b0b" stroke-width="0.8" paint-order="fill stroke">VIRGINIA</text>
<text transform="translate(1939.4,1963.5) scale(0.7078,1)" font-family="Liberation Sans, Arial, sans-serif" font-size="72.5" font-weight="700" fill="#f3eedd" letter-spacing="3.3" filter="url(#fatN)">29.3</text>
<text transform="translate(1935.61,2080.0) scale(1.0051,1)" font-family="Liberation Sans, Arial, sans-serif" font-size="29" fill="#f3eedd" stroke="#0b0b0b" stroke-width="0.8" paint-order="fill stroke">NORTH CAROLINA</text>
<text transform="translate(1939.7,2151.8) scale(0.6708,1)" font-family="Liberation Sans, Arial, sans-serif" font-size="72.5" font-weight="700" fill="#f3eedd" letter-spacing="3.3" filter="url(#fatN)">37.3</text>
<text transform="translate(1936.68,2268.0) scale(1.0045,1)" font-family="Liberation Sans, Arial, sans-serif" font-size="29" fill="#f3eedd" stroke="#0b0b0b" stroke-width="0.8" paint-order="fill stroke">SOUTH CAROLINA</text>
<text transform="translate(1939.7,2339.8) scale(0.6733,1)" font-family="Liberation Sans, Arial, sans-serif" font-size="72.5" font-weight="700" fill="#f3eedd" letter-spacing="3.3" filter="url(#fatN)">32.7</text>
<text transform="translate(1935.67,2457.0) scale(0.9777,1)" font-family="Liberation Sans, Arial, sans-serif" font-size="29" fill="#f3eedd" stroke="#0b0b0b" stroke-width="0.8" paint-order="fill stroke">FLORIDA</text>
<text transform="translate(1940.2,2528.8) scale(0.7105,1)" font-family="Liberation Sans, Arial, sans-serif" font-size="72.5" font-weight="700" fill="#f3eedd" letter-spacing="3.3" filter="url(#fatN)">43.4</text>
<text transform="translate(1702.18,2457.0) scale(0.9735,1)" font-family="Liberation Sans, Arial, sans-serif" font-size="29" fill="#f3eedd" stroke="#0b0b0b" stroke-width="0.8" paint-order="fill stroke">GEORGIA</text>
<text transform="translate(1704.9,2528.8) scale(0.6929,1)" font-family="Liberation Sans, Arial, sans-serif" font-size="72.5" font-weight="700" fill="#f3eedd" letter-spacing="3.3" filter="url(#fatN)">57.4</text>
<text transform="translate(1483.58,2378.0) scale(0.9565,1)" font-family="Liberation Sans, Arial, sans-serif" font-size="29" fill="#f3eedd" stroke="#0b0b0b" stroke-width="0.8" paint-order="fill stroke">TENNESSEE</text>
<text transform="translate(1485.9,2449.8) scale(0.6865,1)" font-family="Liberation Sans, Arial, sans-serif" font-size="72.5" font-weight="700" fill="#f3eedd" letter-spacing="3.3" filter="url(#fatN)">39.7</text>
<text transform="translate(1243.64,2378.0) scale(0.9910,1)" font-family="Liberation Sans, Arial, sans-serif" font-size="29" fill="#f3eedd" stroke="#0b0b0b" stroke-width="0.8" paint-order="fill stroke">KENTUCKY</text>
<text transform="translate(1247.8,2449.8) scale(0.7109,1)" font-family="Liberation Sans, Arial, sans-serif" font-size="72.5" font-weight="700" fill="#f3eedd" letter-spacing="3.3" filter="url(#fatN)">30.5</text>
<text transform="translate(1040.92,2328.0) scale(1.0021,1)" font-family="Liberation Sans, Arial, sans-serif" font-size="29" fill="#f3eedd" stroke="#0b0b0b" stroke-width="0.8" paint-order="fill stroke">LOUISIANA</text>
<text transform="translate(1044.4,2399.8) scale(0.5762,1)" font-family="Liberation Sans, Arial, sans-serif" font-size="72.5" font-weight="700" fill="#f3eedd" letter-spacing="3.3" filter="url(#fatN)">61.7</text>
<text transform="translate(1243.71,2176.0) scale(0.9618,1)" font-family="Liberation Sans, Arial, sans-serif" font-size="29" fill="#f3eedd" stroke="#0b0b0b" stroke-width="0.8" paint-order="fill stroke">MISSISSIPPI</text>
<text transform="translate(1248.2,2247.8) scale(0.7311,1)" font-family="Liberation Sans, Arial, sans-serif" font-size="72.5" font-weight="700" fill="#f3eedd" letter-spacing="3.3" filter="url(#fatN)">45.9</text>
<text transform="translate(1489.34,2176.0) scale(1.0176,1)" font-family="Liberation Sans, Arial, sans-serif" font-size="29" fill="#f3eedd" stroke="#0b0b0b" stroke-width="0.8" paint-order="fill stroke">ALABAMA</text>
<text transform="translate(1491.6,2247.8) scale(0.7157,1)" font-family="Liberation Sans, Arial, sans-serif" font-size="72.5" font-weight="700" fill="#f3eedd" letter-spacing="3.3" filter="url(#fatN)">40.2</text>
<text transform="translate(712.77,2245.0) scale(1.0198,1)" font-family="Liberation Sans, Arial, sans-serif" font-size="29" fill="#f3eedd" stroke="#0b0b0b" stroke-width="0.8" paint-order="fill stroke">HAWAII</text>
<text transform="translate(716.9,2316.8) scale(0.7038,1)" font-family="Liberation Sans, Arial, sans-serif" font-size="72.5" font-weight="700" fill="#f3eedd" letter-spacing="3.3" filter="url(#fatN)">35.3</text>
<text transform="translate(521.64,2064.0) scale(0.9891,1)" font-family="Liberation Sans, Arial, sans-serif" font-size="29" fill="#f3eedd" stroke="#0b0b0b" stroke-width="0.8" paint-order="fill stroke">ALASKA</text>
<text transform="translate(523.7,2135.8) scale(0.6033,1)" font-family="Liberation Sans, Arial, sans-serif" font-size="72.5" font-weight="700" fill="#f3eedd" letter-spacing="3.3" filter="url(#fatN)">43.1</text>
<text transform="translate(67.64,1769.0) scale(0.9884,1)" font-family="Liberation Sans, Arial, sans-serif" font-size="29" fill="#f3eedd" stroke="#0b0b0b" stroke-width="0.8" paint-order="fill stroke">CALIFORNIA</text>
<text transform="translate(71.3,1840.8) scale(0.7267,1)" font-family="Liberation Sans, Arial, sans-serif" font-size="72.5" font-weight="700" fill="#f3eedd" letter-spacing="3.3" filter="url(#fatN)">44.4</text>
<text transform="translate(980.47,1928.0) scale(0.9656,1)" font-family="Liberation Sans, Arial, sans-serif" font-size="29" fill="#f3eedd" stroke="#c54b68" stroke-width="0.8" paint-order="fill stroke">TEXAS</text>
<text transform="translate(983.3,1999.8) scale(0.7209,1)" font-family="Liberation Sans, Arial, sans-serif" font-size="72.5" font-weight="700" fill="#f3eedd" letter-spacing="3.3" filter="url(#fatN)">44.3</text>
<text transform="translate(667.11,1791.0) scale(1.0062,1)" font-family="Liberation Sans, Arial, sans-serif" font-size="29" fill="#f3eedd" stroke="#8d52cc" stroke-width="0.8" paint-order="fill stroke">NEW MEXICO</text>
<text transform="translate(671.2,1862.8) scale(0.7028,1)" font-family="Liberation Sans, Arial, sans-serif" font-size="72.5" font-weight="700" fill="#f3eedd" letter-spacing="3.3" filter="url(#fatN)">36.9</text>
<text transform="translate(469.94,1774.0) scale(1.0017,1)" font-family="Liberation Sans, Arial, sans-serif" font-size="29" fill="#f3eedd" stroke="#8d52cc" stroke-width="0.8" paint-order="fill stroke">ARIZONA</text>
<text transform="translate(471.7,1845.8) scale(0.6813,1)" font-family="Liberation Sans, Arial, sans-serif" font-size="72.5" font-weight="700" fill="#f3eedd" letter-spacing="3.3" filter="url(#fatN)">37.5</text>
<text transform="translate(1027.59,1746.0) scale(1.0268,1)" font-family="Liberation Sans, Arial, sans-serif" font-size="29" fill="#f3eedd" stroke="#4049c8" stroke-width="0.8" paint-order="fill stroke">OKLAHOMA</text>
<text transform="translate(1030.7,1817.8) scale(0.6893,1)" font-family="Liberation Sans, Arial, sans-serif" font-size="72.5" font-weight="700" fill="#f3eedd" letter-spacing="3.3" filter="url(#fatN)">32.6</text>
<text transform="translate(1244.14,1774.0) scale(0.9830,1)" font-family="Liberation Sans, Arial, sans-serif" font-size="29" fill="#f3eedd" stroke="#4049c8" stroke-width="0.8" paint-order="fill stroke">ARKANSAS</text>
<text transform="translate(1245.9,1845.8) scale(0.5738,1)" font-family="Liberation Sans, Arial, sans-serif" font-size="72.5" font-weight="700" fill="#f3eedd" letter-spacing="3.3" filter="url(#fatN)">31.7</text>
<text transform="translate(1224.32,1623.0) scale(0.9997,1)" font-family="Liberation Sans, Arial, sans-serif" font-size="29" fill="#f3eedd" stroke="#4049c8" stroke-width="0.8" paint-order="fill stroke">MISSOURI</text>
<text transform="translate(1228.4,1694.8) scale(0.7005,1)" font-family="Liberation Sans, Arial, sans-serif" font-size="72.5" font-weight="700" fill="#f3eedd" letter-spacing="3.3" filter="url(#fatN)">30.3</text>
<text transform="translate(994.81,1601.0) scale(1.0031,1)" font-family="Liberation Sans, Arial, sans-serif" font-size="29" fill="#f3eedd" stroke="#4049c8" stroke-width="0.8" paint-order="fill stroke">KANSAS</text>
<text transform="translate(998.9,1672.8) scale(0.6906,1)" font-family="Liberation Sans, Arial, sans-serif" font-size="72.5" font-weight="700" fill="#f3eedd" letter-spacing="3.3" filter="url(#fatN)">33.3</text>
<text transform="translate(717.92,1572.0) scale(1.0055,1)" font-family="Liberation Sans, Arial, sans-serif" font-size="29" fill="#f3eedd" stroke="#8d52cc" stroke-width="0.8" paint-order="fill stroke">COLORADO</text>
<text transform="translate(721.6,1643.8) scale(0.7246,1)" font-family="Liberation Sans, Arial, sans-serif" font-size="72.5" font-weight="700" fill="#f3eedd" letter-spacing="3.3" filter="url(#fatN)">40.5</text>
<text transform="translate(525.28,1532.0) scale(1.0358,1)" font-family="Liberation Sans, Arial, sans-serif" font-size="29" fill="#f3eedd" stroke="#246bfd" stroke-width="0.8" paint-order="fill stroke">UTAH</text>
<text transform="translate(528.8,1603.8) scale(0.7007,1)" font-family="Liberation Sans, Arial, sans-serif" font-size="72.5" font-weight="700" fill="#f3eedd" letter-spacing="3.3" filter="url(#fatN)">28.4</text>
<text transform="translate(341.82,1475.0) scale(0.9998,1)" font-family="Liberation Sans, Arial, sans-serif" font-size="29" fill="#f3eedd" stroke="#c54b68" stroke-width="0.8" paint-order="fill stroke">NEVADA</text>
<text transform="translate(346.4,1546.8) scale(0.7279,1)" font-family="Liberation Sans, Arial, sans-serif" font-size="72.5" font-weight="700" fill="#f3eedd" letter-spacing="3.3" filter="url(#fatN)">45.5</text>
<text transform="translate(957.06,1461.0) scale(0.9839,1)" font-family="Liberation Sans, Arial, sans-serif" font-size="29" fill="#f3eedd" stroke="#246bfd" stroke-width="0.8" paint-order="fill stroke">NEBRASKA</text>
<text transform="translate(960.5,1532.8) scale(0.7049,1)" font-family="Liberation Sans, Arial, sans-serif" font-size="72.5" font-weight="700" fill="#f3eedd" letter-spacing="3.3" filter="url(#fatN)">28.5</text>
<text transform="translate(1193.61,1427.0) scale(1.0068,1)" font-family="Liberation Sans, Arial, sans-serif" font-size="29" fill="#f3eedd" stroke="#246bfd" stroke-width="0.8" paint-order="fill stroke">IOWA</text>
<text transform="translate(1197.5,1498.8) scale(0.6945,1)" font-family="Liberation Sans, Arial, sans-serif" font-size="72.5" font-weight="700" fill="#f3eedd" letter-spacing="3.3" filter="url(#fatN)">28.3</text>
<text transform="translate(1581.60,1480.0) scale(1.0203,1)" font-family="Liberation Sans, Arial, sans-serif" font-size="29" fill="#f3eedd" stroke="#c54b68" stroke-width="0.8" paint-order="fill stroke">OHIO</text>
<text transform="translate(1585.1,1551.8) scale(0.6847,1)" font-family="Liberation Sans, Arial, sans-serif" font-size="72.5" font-weight="700" fill="#f3eedd" letter-spacing="3.3" filter="url(#fatN)">47.3</text>
<text transform="translate(688.07,1366.0) scale(1.0036,1)" font-family="Liberation Sans, Arial, sans-serif" font-size="29" fill="#f3eedd" stroke="#4b57da" stroke-width="0.8" paint-order="fill stroke">WYOMING</text>
<text transform="translate(689.9,1437.8) scale(0.6888,1)" font-family="Liberation Sans, Arial, sans-serif" font-size="72.5" font-weight="700" fill="#f3eedd" letter-spacing="3.3" filter="url(#fatN)">32.8</text>
<text transform="translate(459.80,1294.0) scale(1.0469,1)" font-family="Liberation Sans, Arial, sans-serif" font-size="29" fill="#f3eedd" stroke="#246bfd" stroke-width="0.8" paint-order="fill stroke">IDAHO</text>
<text transform="translate(463.7,1365.8) scale(0.7194,1)" font-family="Liberation Sans, Arial, sans-serif" font-size="72.5" font-weight="700" fill="#f3eedd" letter-spacing="3.3" filter="url(#fatN)">29.0</text>
<text transform="translate(617.35,1157.0) scale(1.0311,1)" font-family="Liberation Sans, Arial, sans-serif" font-size="29" fill="#f3eedd" stroke="#246bfd" stroke-width="0.8" paint-order="fill stroke">MONTANA</text>
<text transform="translate(620.9,1228.8) scale(0.7091,1)" font-family="Liberation Sans, Arial, sans-serif" font-size="72.5" font-weight="700" fill="#f3eedd" letter-spacing="3.3" filter="url(#fatN)">29.2</text>
<text transform="translate(955.58,1154.0) scale(1.0187,1)" font-family="Liberation Sans, Arial, sans-serif" font-size="29" fill="#f3eedd" stroke="#246bfd" stroke-width="0.8" paint-order="fill stroke">NORTH</text>
<text transform="translate(955.68,1190.2) scale(0.9760,1)" font-family="Liberation Sans, Arial, sans-serif" font-size="29" fill="#f3eedd" stroke="#246bfd" stroke-width="0.8" paint-order="fill stroke">DAKOTA</text>
<text transform="translate(959.2,1253.6) scale(0.6931,1)" font-family="Liberation Sans, Arial, sans-serif" font-size="72.5" font-weight="700" fill="#f3eedd" letter-spacing="3.3" filter="url(#fatN)">26.3</text>
<text transform="translate(1145.76,1214.0) scale(0.9831,1)" font-family="Liberation Sans, Arial, sans-serif" font-size="29" fill="#f3eedd" stroke="#246bfd" stroke-width="0.8" paint-order="fill stroke">MINNESOTA</text>
<text transform="translate(1149.3,1285.8) scale(0.6914,1)" font-family="Liberation Sans, Arial, sans-serif" font-size="72.5" font-weight="700" fill="#f3eedd" letter-spacing="3.3" filter="url(#fatN)">26.8</text>
</g>
<path d="M643.4,885.9 H929.3 Q936.8,885.9 936.8,893.4 V1016.5 Q936.8,1024 929.3,1024 H643.4 Q617.4,1024 617.4,998 V911.9 Q617.4,885.9 643.4,885.9Z" fill="#f3eedd"/>
<path d="M631.2,917.6 634.7,936.0 653.4,933.7 645.5,950.8 661.9,959.9 645.5,969.0 653.4,986.1 634.7,983.8 631.2,1002.2 617.4,989.4 603.6,1002.2 600.1,983.8 581.4,986.1 589.3,969.0 572.9,959.9 589.3,950.8 581.4,933.7 600.1,936.0 603.6,917.6 617.4,930.4Z" fill="#f3eedd" stroke="#f3eedd" stroke-width="20" stroke-linejoin="round"/>
<path d="M631.2,917.6 634.7,936.0 653.4,933.7 645.5,950.8 661.9,959.9 645.5,969.0 653.4,986.1 634.7,983.8 631.2,1002.2 617.4,989.4 603.6,1002.2 600.1,983.8 581.4,986.1 589.3,969.0 572.9,959.9 589.3,950.8 581.4,933.7 600.1,936.0 603.6,917.6 617.4,930.4Z" fill="#246bfd" stroke="#246bfd" stroke-width="1.5" stroke-linejoin="round"/>
<g transform="translate(618.5,959) rotate(9) scale(1.0)"><path d="M-4.6,-23 Q0,-26 4.6,-23 L3,6 Q0,8.5 -3,6Z" fill="#f3eedd"/><circle cx="0" cy="16.5" r="4.6" fill="#f3eedd"/></g>
<text transform="translate(675.90,931.6) scale(0.9893,1)" font-family="Liberation Sans, Arial, sans-serif" font-size="29" fill="#0b0b0b" stroke="#f3eedd" stroke-width="0.8" paint-order="fill stroke">SOUTH DAKOTA</text>
<text transform="translate(679.8,999.1) scale(0.6062,1)" font-family="Liberation Sans, Arial, sans-serif" font-size="72.5" font-weight="700" fill="#0b0b0b" letter-spacing="3.3" filter="url(#fatN)">21.0</text>
<path d="M2063.4,1588.4 H2271.7 Q2279.2,1588.4 2279.2,1595.9 V1719.4 Q2279.2,1726.9 2271.7,1726.9 H2063.4 Q2037.4,1726.9 2037.4,1700.9 V1614.4 Q2037.4,1588.4 2063.4,1588.4Z" fill="#f3eedd"/>
<path d="M2051.7,1615.2 2055.2,1633.6 2073.9,1631.3 2066.0,1648.4 2082.4,1657.5 2066.0,1666.6 2073.9,1683.7 2055.2,1681.4 2051.7,1699.8 2037.9,1687.0 2024.1,1699.8 2020.6,1681.4 2001.9,1683.7 2009.8,1666.6 1993.4,1657.5 2009.8,1648.4 2001.9,1631.3 2020.6,1633.6 2024.1,1615.2 2037.9,1628.0Z" fill="#f3eedd" stroke="#f3eedd" stroke-width="20" stroke-linejoin="round"/>
<path d="M2051.7,1615.2 2055.2,1633.6 2073.9,1631.3 2066.0,1648.4 2082.4,1657.5 2066.0,1666.6 2073.9,1683.7 2055.2,1681.4 2051.7,1699.8 2037.9,1687.0 2024.1,1699.8 2020.6,1681.4 2001.9,1683.7 2009.8,1666.6 1993.4,1657.5 2009.8,1648.4 2001.9,1631.3 2020.6,1633.6 2024.1,1615.2 2037.9,1628.0Z" fill="#f25040" stroke="#f25040" stroke-width="1.5" stroke-linejoin="round"/>
<g transform="translate(2024.5,1664) rotate(-10) scale(0.82)"><path d="M-4.6,-23 Q0,-26 4.6,-23 L3,6 Q0,8.5 -3,6Z" fill="#f3eedd"/><circle cx="0" cy="16.5" r="4.6" fill="#f3eedd"/></g><g transform="translate(2039.5,1652) rotate(4) scale(0.9)"><path d="M-4.6,-23 Q0,-26 4.6,-23 L3,6 Q0,8.5 -3,6Z" fill="#f3eedd"/><circle cx="0" cy="16.5" r="4.6" fill="#f3eedd"/></g><g transform="translate(2052.5,1657) rotate(9) scale(0.82)"><path d="M-4.6,-23 Q0,-26 4.6,-23 L3,6 Q0,8.5 -3,6Z" fill="#f3eedd"/><circle cx="0" cy="16.5" r="4.6" fill="#f3eedd"/></g>
<text transform="translate(2094.10,1632.5) scale(1.0078,1)" font-family="Liberation Sans, Arial, sans-serif" font-size="29" fill="#0b0b0b" stroke="#f3eedd" stroke-width="0.8" paint-order="fill stroke">MARYLAND</text>
<text transform="translate(2099.2,1698.7) scale(0.6925,1)" font-family="Liberation Sans, Arial, sans-serif" font-size="72.5" font-weight="700" fill="#0b0b0b" letter-spacing="3.3" filter="url(#fatN)">66.3</text>
<text transform="translate(85.28,168.5) scale(0.9668,1)" font-family="Liberation Sans, Arial, sans-serif" font-size="75.3" font-weight="700" fill="#f3eedd" >THE U.S. STATES THAT</text>
<text transform="translate(78.4,386.8) scale(0.604,1)" font-family="Liberation Sans, Arial, sans-serif" font-size="246" font-weight="700" fill="#f25040" letter-spacing="9.9" filter="url(#fatT)">SWEAR</text>
<text transform="translate(905.3,386.8) scale(0.604,1)" font-family="Liberation Sans, Arial, sans-serif" font-size="246" font-weight="700" fill="#f25040" letter-spacing="9.9" filter="url(#fatT)">MOST</text>
<rect x="1043" y="217" width="97" height="170" rx="48.5" fill="#f25040"/>
<path d="M1064,267 L1118,337 M1118,267 L1064,337" stroke="#0b0b0b" stroke-width="20" stroke-linecap="butt"/>
<text transform="translate(719,345.5) skewY(-8.9) scale(0.62,1)" font-family="Liberation Sans, Arial, sans-serif" font-size="97" font-weight="700" fill="#f25040" letter-spacing="4" filter="url(#fatH)">THE</text>
<path d="M705,255.5 C760,252 800,233 860.5,230.5" stroke="#f25040" stroke-width="7" fill="none" stroke-linecap="round"/><path d="M705,366.5 C760,363 800,345 860.5,342.5" stroke="#f25040" stroke-width="7" fill="none" stroke-linecap="round"/>
<text transform="translate(68.76,480.1) scale(1.0994,1)" font-family="Liberation Sans, Arial, sans-serif" font-size="37" fill="#f3eedd" stroke="#0b0b0b" stroke-width="0.7" paint-order="fill stroke">Mapping the number of swear words per 1,000 online messages posted by Americans</text>
<text transform="translate(70.42,539.9) scale(1.0834,1)" font-family="Liberation Sans, Arial, sans-serif" font-size="37" fill="#f3eedd" stroke="#0b0b0b" stroke-width="0.7" paint-order="fill stroke">on X (formerly Twitter), based on an analysis of 1.7 million geotagged tweets.</text>
<rect x="67.5" y="661.5" width="866" height="121" rx="8" fill="none" stroke="#f3eedd" stroke-width="2"/>
<rect x="98" y="655" width="406" height="12" fill="#0b0b0b"/>
<text transform="translate(112.0,674.0) scale(1.0187,1)" font-family="Liberation Sans, Arial, sans-serif" font-size="32" font-weight="700" fill="#f3eedd" text-anchor="start" >Tweets Swearing per 1K</text>
<rect x="111.8" y="701.5" width="152.2" height="18.5" fill="#246bfd"/>
<rect x="268.6" y="701.5" width="152.2" height="18.5" fill="#4049c8"/>
<rect x="425.3" y="701.5" width="152.2" height="18.5" fill="#8d52cc"/>
<rect x="582.0" y="701.5" width="152.2" height="18.5" fill="#c54b68"/>
<rect x="738.8" y="701.5" width="152.2" height="18.5" fill="#f25040"/>
<text transform="translate(112.0,756.5) scale(0.9725,1)" font-family="Liberation Sans, Arial, sans-serif" font-size="28" fill="#f3eedd" text-anchor="start" >21.0</text>
<text transform="translate(833.5,756.5) scale(1.1193,1)" font-family="Liberation Sans, Arial, sans-serif" font-size="28" fill="#f3eedd" text-anchor="start" >66.3</text>
<text transform="translate(81.0,2717.5) scale(0.9620,1)" font-family="Liberation Sans, Arial, sans-serif" font-size="29.5" font-weight="700" fill="#f3eedd" text-anchor="start" >Methodology:</text>
<text transform="translate(274.5,2717.5) scale(0.9948,1)" font-family="Liberation Sans, Arial, sans-serif" font-size="29.5" fill="#f3eedd" text-anchor="start" >We analyzed 1.7 million geotagged English tweets, looking for instances of swear words from a seed list of 1,600 English profanities and their variations.</text>
<text transform="translate(81.0,2758.5) scale(1.0100,1)" font-family="Liberation Sans, Arial, sans-serif" font-size="29.5" fill="#f3eedd" text-anchor="start" >We filtered the data to allow only one tweet per user and manually removed generic words in nature when presented without context.</text>
<rect x="0" y="2805.5" width="2400" height="163" fill="#2d3233"/>
<text transform="translate(332.0,2878.0) scale(1.0026,1)" font-family="Liberation Sans, Arial, sans-serif" font-size="24.5" fill="#ffffff" text-anchor="start" >This image is licensed under the Creative Commons Attribution-Share Alike 4.0 International License</text>
<text transform="translate(332.0,2918.0) scale(1.0041,1)" font-family="Liberation Sans, Arial, sans-serif" font-size="24.5" fill="#ffffff" text-anchor="start" >www.creativecommons.org/licenses/by-sa/4.0</text>
<g id="illustration">
<path d="M1904.9,107.0 C1908.7,114.2 1916.3,139.1 1927.7,150.5 C1939.1,161.9 1955.3,169.9 1973.3,175.4 C1991.3,180.9 2018.9,182.3 2035.5,183.7 C2052.1,185.1 2062.5,185.6 2072.8,183.7 C2083.2,181.8 2093.6,174.0 2097.7,172.1 L2097.7,172.1 C2101.9,177.5 2110.2,194.5 2122.6,204.4 C2135.0,214.3 2157.2,227.9 2172.4,231.4 C2187.6,234.8 2202.1,229.0 2213.9,225.2 C2225.6,221.4 2238.0,211.3 2242.9,208.6 L2242.9,208.6 C2238.4,214.8 2221.5,232.1 2215.9,245.9 C2210.4,259.7 2206.6,277.0 2209.7,291.5 C2212.8,306.0 2222.5,323.3 2234.6,333.0 C2246.7,342.7 2274.3,346.8 2282.3,349.6 L2282.3,349.6 C2279.2,366.9 2272.3,422.2 2263.6,453.3 C2255.0,484.4 2240.5,513.3 2230.4,536.2 C2220.4,559.2 2208.0,581.9 2203.5,591.0 L2203.5,591.0 C2192.8,586.0 2163.7,567.5 2139.2,561.1 C2114.7,554.8 2083.9,551.5 2056.2,552.8 C2028.6,554.2 1994.4,560.8 1973.3,569.4 C1952.2,578.1 1937.0,598.8 1929.7,604.7 L1929.7,604.7 C1928.7,596.7 1930.1,571.8 1923.5,557.0 C1917.0,542.1 1906.2,526.6 1890.3,515.5 C1874.4,504.4 1855.8,495.8 1828.1,490.6 C1800.5,485.4 1741.7,485.4 1724.4,484.4 L1724.4,484.4 C1732.7,477.8 1763.5,459.9 1774.2,445.0 C1784.9,430.1 1790.1,411.8 1788.7,395.2 C1787.3,378.6 1779.0,358.9 1765.9,345.5 C1752.8,332.0 1719.2,319.5 1709.9,314.3 L1709.9,314.3 C1721.3,312.6 1761.4,310.5 1778.3,304.0 C1795.3,297.4 1806.0,288.1 1811.5,274.9 C1817.1,261.8 1817.1,240.0 1811.5,225.2 C1806.0,210.3 1783.9,192.3 1778.3,185.8 L1778.3,185.8 C1787.3,185.4 1815.0,188.2 1832.3,183.7 C1849.6,179.2 1869.9,171.6 1882.0,158.8 C1894.1,146.0 1901.1,115.6 1904.9,107.0Z" fill="#343839"/>
<path d="M1622.8,223.1 L1707.8,231.4 L1707.0,257.5 L1755.5,274.9 L1693.3,270.0 L1694.6,245.9Z" fill="#343839"/>
<path d="M1888.3,543.7 L1838.5,605.9 L1811.5,585.2 L1770.1,655.7 L1804.1,607.6 L1831.4,619.2Z" fill="#343839"/>
<path d="M2292.7,134.7 L2245.0,177.5 L2232.5,163.0 L2192.3,189.9 L2234.6,150.5 L2247.0,159.6Z" fill="#343839"/>
<path d="M1747.2,175.4 C1753.1,178.9 1773.5,187.8 1782.5,196.1 C1791.5,204.4 1798.1,220.3 1801.2,225.2" fill="none" stroke="#343839" stroke-width="2.6" stroke-linecap="round"/>
<path d="M1709.9,316.4 C1715.8,319.9 1736.2,328.9 1745.2,337.2 C1754.2,345.5 1760.7,361.3 1763.8,366.2" fill="none" stroke="#343839" stroke-width="2.6" stroke-linecap="round"/>
<path d="M1726.5,484.4 C1732.0,480.6 1751.7,470.9 1759.7,461.6 C1767.6,452.3 1771.8,433.9 1774.2,428.4" fill="none" stroke="#343839" stroke-width="2.6" stroke-linecap="round"/>
<path d="M1743.1,494.8 C1753.8,493.7 1787.7,486.8 1807.4,488.5 C1827.1,490.3 1852.3,502.4 1861.3,505.1" fill="none" stroke="#343839" stroke-width="2.6" stroke-linecap="round"/>
<path d="M1948.4,602.6 C1952.6,598.5 1962.9,583.6 1973.3,577.7 C1983.7,571.8 2004.4,569.1 2010.6,567.3" fill="none" stroke="#343839" stroke-width="2.6" stroke-linecap="round"/>
<path d="M1788.7,469.9 C1798.7,470.6 1828.8,467.1 1848.9,474.0 C1868.9,480.9 1899.0,505.1 1909.0,511.4" fill="none" stroke="#151515" stroke-width="2.6" stroke-linecap="round"/>
<path d="M1844.7,463.7 C1852.3,466.1 1878.2,472.3 1890.3,478.2 C1902.4,484.1 1912.8,495.5 1917.3,498.9" fill="none" stroke="#151515" stroke-width="2.6" stroke-linecap="round"/>
<path d="M2002.3,523.8 C2008.5,523.1 2028.6,519.0 2039.7,519.7 C2050.7,520.3 2063.8,526.6 2068.7,527.9" fill="none" stroke="#151515" stroke-width="2.6" stroke-linecap="round"/>
<path d="M1975.4,544.5 C1979.2,543.2 1990.9,538.0 1998.2,536.2 C2005.4,534.5 2015.5,534.5 2018.9,534.2" fill="none" stroke="#151515" stroke-width="2.6" stroke-linecap="round"/>
<circle cx="1809.0" cy="139.4" r="9" fill="#f3eedd"/>
<circle cx="1800.0" cy="137.4" r="6.5" fill="#f3eedd"/>
<circle cx="1805.0" cy="130.4" r="7" fill="#f3eedd"/>
<circle cx="1815.0" cy="131.4" r="7.5" fill="#f3eedd"/>
<circle cx="1820.0" cy="139.4" r="6.5" fill="#f3eedd"/>
<circle cx="1814.0" cy="148.4" r="6.5" fill="#f3eedd"/>
<circle cx="1803.0" cy="147.4" r="7" fill="#f3eedd"/>
<path d="M1822.5,142.5 C1824.8,143.6 1831.0,145.0 1836.0,148.7 C1841.0,152.4 1849.8,162.0 1852.6,164.7 " fill="none" stroke="#f3eedd" stroke-width="4" stroke-linecap="round"/>
<path d="M2093.6,150.5 C2098.4,150.5 2115.7,155.3 2122.6,150.5 C2129.5,145.7 2133.0,126.3 2135.0,121.5" fill="none" stroke="#f3eedd" stroke-width="7" stroke-linecap="butt"/>
<path d="M2139.2,171.2 C2142.0,169.2 2153.7,164.0 2155.8,158.8 C2157.9,153.6 2152.3,143.3 2151.6,140.1" fill="none" stroke="#f3eedd" stroke-width="7" stroke-linecap="butt"/>
<path d="M2099.8,173.3 C2103.6,173.0 2116.4,168.7 2122.6,171.2 C2128.8,173.8 2134.7,185.8 2137.1,188.7" fill="none" stroke="#f3eedd" stroke-width="7" stroke-linecap="butt"/>
<path d="M2153.7,150.5 C2152.7,152.6 2147.5,159.4 2147.5,163.0 C2147.5,166.5 2152.7,170.6 2153.7,172.1" fill="none" stroke="#f3eedd" stroke-width="7" stroke-linecap="butt"/>
<path d="M1944.4,492.9 L1979.8,499.1" stroke="#f3eedd" stroke-width="6.5" stroke-linecap="round"/>
<path d="M1955.9,479.1 L1968.2,512.9" stroke="#f3eedd" stroke-width="6.5" stroke-linecap="round"/>
<path d="M1973.7,482.2 L1950.5,509.8" stroke="#f3eedd" stroke-width="6.5" stroke-linecap="round"/>
<circle cx="1965.1" cy="294.1" r="148" fill="#f25040"/>
<g clip-path="url(#cBall)">
<path d="M2055,190 A135,135 0 0 1 1940,428" fill="none" stroke="#a80f1a" stroke-width="85" filter="url(#grainB)"/>
<path d="M1840,350 A135,135 0 0 1 1905,172" fill="none" stroke="#ffc9a8" stroke-width="60" filter="url(#grainB)"/>
</g>
<path d="M1909.0,170.5 Q1967.7,146.0 2026.4,173.6" fill="none" stroke="#f3eedd" stroke-width="3" stroke-linecap="round"/>
<path d="M2081.7,200.6 A148,148 0 0 1 2112.8,286.6" fill="none" stroke="#f3eedd" stroke-width="3.2"/>
<path d="M2037.2,425.6 A148,148 0 0 1 1989.5,441.8" fill="none" stroke="#f3eedd" stroke-width="2.4"/>
<ellipse cx="1869.2" cy="316.7" rx="6.3" ry="18" fill="#0b0b0b" transform="rotate(-4 1869.2 316.7)"/>
<ellipse cx="1935.1" cy="307.0" rx="6.3" ry="18" fill="#0b0b0b" transform="rotate(-4 1935.1 307.0)"/>
<path d="M1843.9,269.0 C1848.4,280.4 1863.0,287.7 1877.1,281.5 C1867.1,280.8 1852.6,276.3 1843.9,269.0Z" fill="#0b0b0b"/>
<path d="M1916.9,273.8 C1923.1,262.8 1941.8,258.6 1951.1,268.4 C1941.8,265.9 1927.2,266.9 1916.9,273.8Z" fill="#0b0b0b"/>
<path d="M1824.6,380.0 L2051.7,322.3 L2072.0,399.7 L1842.2,429.3Z" fill="#0b0b0b" stroke="#0b0b0b" stroke-width="3" stroke-linejoin="round"/>
<path d="M1816.9,376.2 L2045.5,318.2 L2063.7,396.1 L1834.3,423.5Z" fill="#f3eedd" stroke="#f3eedd" stroke-width="3" stroke-linejoin="round"/>
<text transform="translate(1845.9,411.1) rotate(-11) skewX(-8)" font-family="Liberation Sans, Arial, sans-serif" font-weight="700" font-size="48" fill="#2a3032" textLength="178" lengthAdjust="spacingAndGlyphs">%&amp;@!/*</text>
<path d="M2173.0,340.3 L2279.7,350.7 L2281.0,357.0 L2192.2,605.8 L2185.8,610.3 L2082.1,567.3 L2079.1,560.4Z" fill="#0b0b0b" stroke="#f3eedd" stroke-width="1.5" stroke-linejoin="round"/>
<path d="M2165.2,333.5 L2247.4,345.2 L2251.3,341.7 L2273.8,345.2 L2275.8,350.1 L2185.8,597.6 L2080.1,556.9 L2077.6,552.6 L2162.3,337.0Z" fill="#f3eedd" stroke="#f3eedd" stroke-width="2" stroke-linejoin="round"/>
<path d="M2168.2,338.4 L2245.4,349.1 L2250.3,345.6 L2270.5,348.2 L2183.8,592.7 L2083.0,553.6Z" fill="#f25040"/>
<path d="M2160.3,363.8 L2263.0,374.6 L2192.6,570.2 L2092.8,535.0Z" fill="#f3eedd"/>
<path d="M2175.0,366.7 L2253.3,376.5 L2217.1,480.2 L2126.1,453.8 L2134.9,449.9 L2152.5,388.3Z" fill="#343839"/>
<path d="M2188.7,386.3 L2247.4,392.2 L2217.1,480.2 L2147.6,459.7 L2159.4,425.4Z" fill="#0d0d0d"/>
<path d="M2159.7,487.7 L2200.4,498.8 L2204.0,503.7 L2199.5,521.3 L2201.4,525.6 L2194.6,522.9 L2154.5,511.5 L2151.1,506.6 L2155.4,491.0Z" fill="#f25040" stroke="#f25040" stroke-width="2" stroke-linejoin="round"/>
<path d="M2157.4,500.2 C2158.4,500.0 2161.3,498.4 2163.3,498.8 C2165.2,499.2 2166.9,501.9 2169.1,502.7 C2171.4,503.5 2174.4,502.7 2177.0,503.7 C2179.6,504.7 2182.5,508.0 2184.8,508.6 C2187.1,509.2 2188.7,507.1 2190.7,507.2 C2192.6,507.4 2195.5,509.2 2196.5,509.6" fill="none" stroke="#f3eedd" stroke-width="1.6"/>
<path d="M2091.3,542.8 L2157.4,567.3 L2154.5,577.1 L2088.3,552.6Z" fill="#f3eedd"/>
<path d="M2164.2,573.2 L2177.9,577.1 L2167.2,583.9Z" fill="#f3eedd"/>
<path d="M2265.0,384.0 L2271.3,387.3 L2265.0,404.9 L2259.1,402.9Z" fill="#f25040"/>
<path d="M2255.2,412.7 L2260.7,415.7 L2255.2,434.2 L2248.4,433.3Z" fill="#f25040"/>
<ellipse cx="2127.3" cy="307.1" rx="14.1" ry="49.9" fill="none" stroke="#f3eedd" stroke-width="10" transform="rotate(4 2125.1 306.1)"/>
<ellipse cx="2125.1" cy="306.1" rx="14.1" ry="49.9" fill="none" stroke="#8d52cc" stroke-width="10" transform="rotate(4 2125.1 306.1)"/>
<ellipse cx="2155.7" cy="328.2" rx="15.3" ry="52.4" fill="none" stroke="#f3eedd" stroke-width="10" transform="rotate(8 2153.5 327.2)"/>
<ellipse cx="2153.5" cy="327.2" rx="15.3" ry="52.4" fill="none" stroke="#8d52cc" stroke-width="10" transform="rotate(8 2153.5 327.2)"/>
<ellipse cx="2177.2" cy="356.4" rx="15.3" ry="48.5" fill="none" stroke="#f3eedd" stroke-width="10" transform="rotate(14 2175.0 355.4)"/>
<ellipse cx="2175.0" cy="355.4" rx="15.3" ry="48.5" fill="none" stroke="#8d52cc" stroke-width="10" transform="rotate(14 2175.0 355.4)"/>
<ellipse cx="2190.9" cy="385.0" rx="16.6" ry="40.1" fill="none" stroke="#f3eedd" stroke-width="10" transform="rotate(26 2188.7 384.0)"/>
<ellipse cx="2188.7" cy="384.0" rx="16.6" ry="40.1" fill="none" stroke="#8d52cc" stroke-width="10" transform="rotate(26 2188.7 384.0)"/>
<ellipse cx="2198.7" cy="407.9" rx="18.6" ry="29.3" fill="none" stroke="#f3eedd" stroke-width="10" transform="rotate(45 2196.5 406.9)"/>
<ellipse cx="2196.5" cy="406.9" rx="18.6" ry="29.3" fill="none" stroke="#8d52cc" stroke-width="10" transform="rotate(45 2196.5 406.9)"/>
<ellipse cx="2192.6" cy="426.4" rx="15.7" ry="24.5" fill="none" stroke="#8d52cc" stroke-width="10" transform="rotate(-10 2192.6 426.4)"/>
</g>
<g id="cc">
<rect x="80.3" y="2849.6" width="213.6" height="74.2" rx="2.5" fill="#abb1aa" stroke="#000" stroke-width="1.6"/>
<path d="M81,2902 H293 V2923 H81Z" fill="#000"/>
<circle cx="117.1" cy="2884.1" r="32.5" fill="#abb1aa"/>
<circle cx="117.1" cy="2884.1" r="25" fill="#fff" stroke="#000" stroke-width="5.2"/>
<text x="117.1" y="2893.5" font-family="Liberation Sans, Arial, sans-serif" font-size="28" font-weight="700" fill="#000" text-anchor="middle" letter-spacing="-1.5">cc</text>
<circle cx="172.4" cy="2875.4" r="18.4" fill="#fff" stroke="#000" stroke-width="3.8"/>
<text x="170.9" y="2918.7" font-family="Liberation Sans, Arial, sans-serif" font-size="15.7" font-weight="700" fill="#fff" text-anchor="middle">BY</text>
<circle cx="219" cy="2875.4" r="18.4" fill="#fff" stroke="#000" stroke-width="3.8"/>
<text x="217.5" y="2918.7" font-family="Liberation Sans, Arial, sans-serif" font-size="15.7" font-weight="700" fill="#fff" text-anchor="middle">NC</text>
<circle cx="265.5" cy="2875.4" r="18.4" fill="#fff" stroke="#000" stroke-width="3.8"/>
<text x="264.0" y="2918.7" font-family="Liberation Sans, Arial, sans-serif" font-size="15.7" font-weight="700" fill="#fff" text-anchor="middle">SA</text>
<circle cx="172.4" cy="2864.5" r="3.2" fill="#000"/><path d="M166.5,2869.5 h11.8 v10.5 h-2.8 v9 h-6.2 v-9 h-2.8z" fill="#000"/>
<text x="219" y="2884.5" font-family="Liberation Sans, Arial, sans-serif" font-size="26" font-weight="700" fill="#000" text-anchor="middle">$</text>
<path d="M203,2866 L235,2882" stroke="#fff" stroke-width="6"/><path d="M203,2866.5 L235,2882.5" stroke="#000" stroke-width="3.2"/>
<path d="M257.5,2873 A8.6,8.6 0 1 1 258,2879.5" fill="none" stroke="#000" stroke-width="4.2"/><path d="M252.5,2873 h10 l-5,6z" fill="#000"/>
</g>
<g id="wordtips">
<path d="M2055.8,2869.4 L2067.6,2865.1 L2072.5,2904.6 L2068.5,2915.4Z" fill="#35594b"/>
<path d="M2086.2,2869.4 L2104.8,2880.1 L2100.9,2908.5 L2096.0,2904.6Z" fill="#35594b"/>
<path d="M2028.6,2864.9 C2034.6,2863.4 2044.6,2862.4 2048.6,2869.4 L2069.2,2913.4 C2070.7,2921.4 2061.7,2926.4 2053.7,2921.4 C2047.7,2915.4 2034.6,2876.4 2028.6,2864.9Z" fill="#57bd94"/>
<path d="M2059.5,2864.9 C2065.5,2863.4 2075.5,2862.4 2079.5,2869.4 L2100.0,2913.4 C2101.5,2921.4 2092.5,2926.4 2084.5,2921.4 C2078.5,2915.4 2065.5,2876.4 2059.5,2864.9Z" fill="#57bd94"/>
<path d="M2092.1,2867.3 L2098.9,2864.5 A8.8,8.8 0 1 1 2094.4,2879.3 Z" fill="#ffd600"/>
<text transform="translate(2116.5,2910.5) scale(0.985,1)" font-family="Liberation Sans, Arial, sans-serif" font-size="49" fill="#57bd94"><tspan font-weight="700">Word</tspan>tips</text>
</g>
</svg>
</body></html>
